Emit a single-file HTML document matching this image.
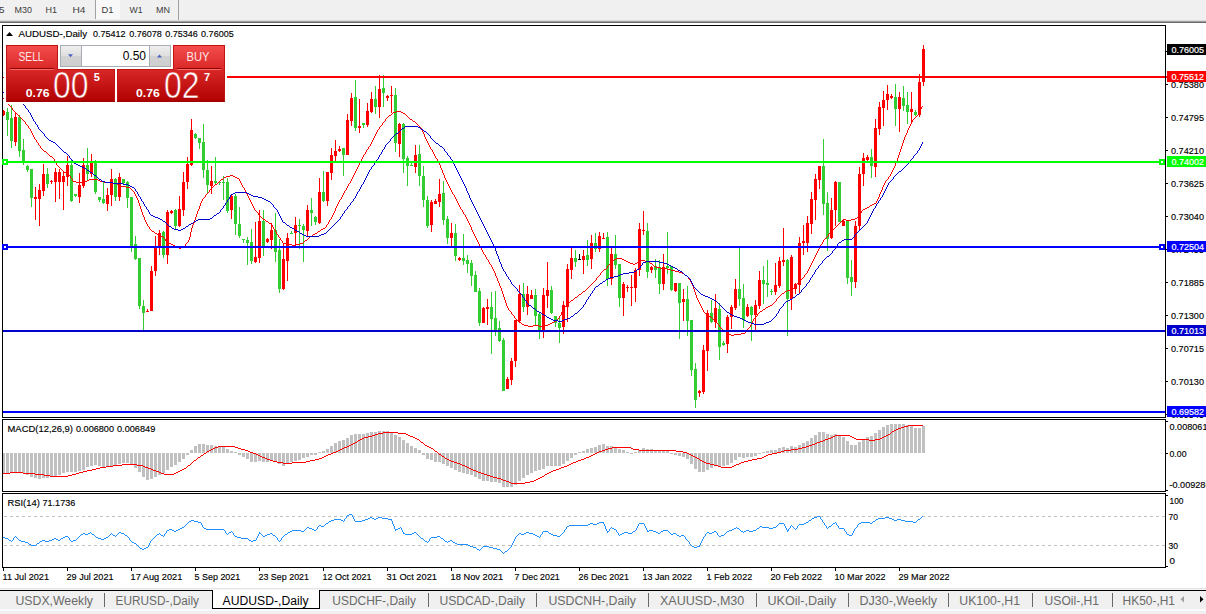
<!DOCTYPE html>
<html lang="en"><head><meta charset="utf-8"><title>AUDUSD-,Daily</title>
<style>
html,body{margin:0;padding:0;background:#fff;overflow:hidden}
body{width:1206px;height:614px;position:relative;font-family:"Liberation Sans", "DejaVu Sans", sans-serif}
svg{position:absolute;left:0;top:0;display:block}
text{font-family:"Liberation Sans", "DejaVu Sans", sans-serif}
.c{font-size:9.8px;fill:#000;stroke:#000;stroke-width:0.15px}
.w{font-size:9.8px;fill:#fff;stroke:#fff;stroke-width:0.2px}
.tab{font-size:12.5px;fill:#6a6a6a}
.tb{font-size:9.8px;fill:#3c3c3c}
</style></head><body>
<svg width="1206" height="614" viewBox="0 0 1206 614">
<defs>
<linearGradient id="gs" x1="0" y1="0" x2="0" y2="1"><stop offset="0" stop-color="#f54e4e"/><stop offset="1" stop-color="#d92626"/></linearGradient>
<linearGradient id="gp" x1="0" y1="0" x2="0" y2="1"><stop offset="0" stop-color="#d92828"/><stop offset="0.9" stop-color="#b40404"/><stop offset="1" stop-color="#a80000"/></linearGradient>
<linearGradient id="gp2" gradientUnits="userSpaceOnUse" x1="0" y1="69" x2="0" y2="102"><stop offset="0" stop-color="#d92828"/><stop offset="0.9" stop-color="#b40404"/><stop offset="1" stop-color="#a80000"/></linearGradient>
<linearGradient id="gb" x1="0" y1="0" x2="0" y2="1"><stop offset="0" stop-color="#efefef"/><stop offset="0.5" stop-color="#dedede"/><stop offset="0.5" stop-color="#d2d2d2"/><stop offset="1" stop-color="#cfcfcf"/></linearGradient>
</defs>
<rect width="1206" height="614" fill="#fff"/>

<g shape-rendering="crispEdges">
<rect x="0" y="0" width="1206" height="21" fill="#f0f0f0"/>
<rect x="0" y="20" width="1206" height="1" fill="#dadada"/>
<rect x="0" y="21" width="1206" height="1" fill="#a0a0a0"/>
<rect x="0" y="22" width="1206" height="1" fill="#696969"/>
<rect x="96" y="0" width="24" height="19" fill="#f8f8f8"/>
<rect x="95" y="0" width="1" height="19" fill="#a0a0a0"/>
<rect x="178" y="0" width="1" height="20" fill="#a0a0a0"/>
</g>
<text x="-1" y="13" class="tb">5</text>
<text x="14.5" y="13" class="tb" textLength="17.5" lengthAdjust="spacingAndGlyphs">M30</text>
<text x="45.5" y="13" class="tb" textLength="11.5" lengthAdjust="spacingAndGlyphs">H1</text>
<text x="72.5" y="13" class="tb" textLength="13" lengthAdjust="spacingAndGlyphs">H4</text>
<text x="101.5" y="13" class="tb" textLength="12" lengthAdjust="spacingAndGlyphs">D1</text>
<text x="129.5" y="13" class="tb" textLength="13" lengthAdjust="spacingAndGlyphs">W1</text>
<text x="156" y="13" class="tb" textLength="14" lengthAdjust="spacingAndGlyphs">MN</text>
<g shape-rendering="crispEdges" fill="none" stroke="#000" stroke-width="1">
<rect x="2.5" y="25.5" width="1163" height="392"/>
<rect x="2.5" y="419.5" width="1163" height="72"/>
<rect x="2.5" y="493.5" width="1163" height="74"/>
</g>
<g shape-rendering="crispEdges">
<rect x="3" y="110" width="1" height="6" fill="#ff0000"/>
<rect x="3" y="111" width="2" height="4" fill="#ff0000"/>
<rect x="7" y="108" width="1" height="28" fill="#32cd32"/>
<rect x="6" y="112" width="3" height="8" fill="#32cd32"/>
<rect x="11" y="105" width="1" height="43" fill="#32cd32"/>
<rect x="10" y="118" width="3" height="23" fill="#32cd32"/>
<rect x="15" y="112" width="1" height="34" fill="#ff0000"/>
<rect x="14" y="117" width="3" height="25" fill="#ff0000"/>
<rect x="19" y="115" width="1" height="42" fill="#32cd32"/>
<rect x="18" y="117" width="3" height="34" fill="#32cd32"/>
<rect x="23" y="139" width="1" height="26" fill="#32cd32"/>
<rect x="22" y="150" width="3" height="11" fill="#32cd32"/>
<rect x="27" y="165" width="1" height="7" fill="#32cd32"/>
<rect x="26" y="166" width="3" height="4" fill="#32cd32"/>
<rect x="31" y="169" width="1" height="38" fill="#32cd32"/>
<rect x="30" y="169" width="3" height="29" fill="#32cd32"/>
<rect x="35" y="187" width="1" height="33" fill="#ff0000"/>
<rect x="34" y="197" width="3" height="2" fill="#ff0000"/>
<rect x="39" y="184" width="1" height="42" fill="#ff0000"/>
<rect x="38" y="190" width="3" height="9" fill="#ff0000"/>
<rect x="43" y="164" width="1" height="32" fill="#ff0000"/>
<rect x="42" y="174" width="3" height="17" fill="#ff0000"/>
<rect x="47" y="168" width="1" height="20" fill="#32cd32"/>
<rect x="46" y="174" width="3" height="10" fill="#32cd32"/>
<rect x="51" y="180" width="1" height="4" fill="#ff0000"/>
<rect x="50" y="181" width="3" height="1" fill="#ff0000"/>
<rect x="55" y="168" width="1" height="34" fill="#ff0000"/>
<rect x="54" y="172" width="3" height="10" fill="#ff0000"/>
<rect x="59" y="169" width="1" height="30" fill="#ff0000"/>
<rect x="58" y="172" width="3" height="10" fill="#ff0000"/>
<rect x="63" y="172" width="1" height="38" fill="#ff0000"/>
<rect x="62" y="176" width="3" height="6" fill="#ff0000"/>
<rect x="67" y="156" width="1" height="30" fill="#ff0000"/>
<rect x="66" y="165" width="3" height="12" fill="#ff0000"/>
<rect x="71" y="160" width="1" height="42" fill="#32cd32"/>
<rect x="70" y="165" width="3" height="36" fill="#32cd32"/>
<rect x="75" y="194" width="1" height="3" fill="#32cd32"/>
<rect x="74" y="194" width="3" height="2" fill="#32cd32"/>
<rect x="79" y="173" width="1" height="30" fill="#ff0000"/>
<rect x="78" y="185" width="3" height="12" fill="#ff0000"/>
<rect x="83" y="158" width="1" height="30" fill="#ff0000"/>
<rect x="82" y="165" width="3" height="21" fill="#ff0000"/>
<rect x="87" y="148" width="1" height="33" fill="#32cd32"/>
<rect x="86" y="165" width="3" height="9" fill="#32cd32"/>
<rect x="91" y="154" width="1" height="23" fill="#ff0000"/>
<rect x="90" y="161" width="3" height="13" fill="#ff0000"/>
<rect x="95" y="160" width="1" height="34" fill="#32cd32"/>
<rect x="94" y="161" width="3" height="31" fill="#32cd32"/>
<rect x="99" y="197" width="1" height="5" fill="#32cd32"/>
<rect x="98" y="197" width="3" height="3" fill="#32cd32"/>
<rect x="103" y="182" width="1" height="22" fill="#32cd32"/>
<rect x="102" y="199" width="3" height="4" fill="#32cd32"/>
<rect x="107" y="188" width="1" height="23" fill="#ff0000"/>
<rect x="106" y="195" width="3" height="9" fill="#ff0000"/>
<rect x="111" y="169" width="1" height="37" fill="#ff0000"/>
<rect x="110" y="179" width="3" height="16" fill="#ff0000"/>
<rect x="115" y="178" width="1" height="23" fill="#32cd32"/>
<rect x="114" y="179" width="3" height="18" fill="#32cd32"/>
<rect x="119" y="173" width="1" height="28" fill="#ff0000"/>
<rect x="118" y="177" width="3" height="20" fill="#ff0000"/>
<rect x="123" y="179" width="1" height="5" fill="#32cd32"/>
<rect x="122" y="179" width="3" height="4" fill="#32cd32"/>
<rect x="127" y="181" width="1" height="27" fill="#32cd32"/>
<rect x="126" y="182" width="3" height="16" fill="#32cd32"/>
<rect x="131" y="197" width="1" height="55" fill="#32cd32"/>
<rect x="130" y="197" width="3" height="50" fill="#32cd32"/>
<rect x="135" y="236" width="1" height="24" fill="#32cd32"/>
<rect x="134" y="244" width="3" height="15" fill="#32cd32"/>
<rect x="139" y="258" width="1" height="51" fill="#32cd32"/>
<rect x="138" y="258" width="3" height="48" fill="#32cd32"/>
<rect x="143" y="300" width="1" height="30" fill="#32cd32"/>
<rect x="142" y="306" width="3" height="7" fill="#32cd32"/>
<rect x="147" y="309" width="1" height="3" fill="#ff0000"/>
<rect x="146" y="311" width="3" height="1" fill="#ff0000"/>
<rect x="151" y="266" width="1" height="45" fill="#ff0000"/>
<rect x="150" y="271" width="3" height="40" fill="#ff0000"/>
<rect x="155" y="236" width="1" height="40" fill="#ff0000"/>
<rect x="154" y="247" width="3" height="24" fill="#ff0000"/>
<rect x="159" y="230" width="1" height="25" fill="#ff0000"/>
<rect x="158" y="233" width="3" height="15" fill="#ff0000"/>
<rect x="163" y="231" width="1" height="27" fill="#32cd32"/>
<rect x="162" y="232" width="3" height="23" fill="#32cd32"/>
<rect x="167" y="210" width="1" height="54" fill="#ff0000"/>
<rect x="166" y="212" width="3" height="43" fill="#ff0000"/>
<rect x="171" y="210" width="1" height="4" fill="#ff0000"/>
<rect x="170" y="211" width="3" height="2" fill="#ff0000"/>
<rect x="175" y="209" width="1" height="20" fill="#32cd32"/>
<rect x="174" y="210" width="3" height="16" fill="#32cd32"/>
<rect x="179" y="196" width="1" height="31" fill="#ff0000"/>
<rect x="178" y="209" width="3" height="17" fill="#ff0000"/>
<rect x="183" y="172" width="1" height="44" fill="#ff0000"/>
<rect x="182" y="182" width="3" height="28" fill="#ff0000"/>
<rect x="187" y="157" width="1" height="32" fill="#ff0000"/>
<rect x="186" y="164" width="3" height="18" fill="#ff0000"/>
<rect x="191" y="119" width="1" height="47" fill="#ff0000"/>
<rect x="190" y="130" width="3" height="35" fill="#ff0000"/>
<rect x="195" y="133" width="1" height="6" fill="#32cd32"/>
<rect x="194" y="134" width="3" height="4" fill="#32cd32"/>
<rect x="199" y="138" width="1" height="11" fill="#32cd32"/>
<rect x="198" y="138" width="3" height="5" fill="#32cd32"/>
<rect x="203" y="124" width="1" height="54" fill="#32cd32"/>
<rect x="202" y="142" width="3" height="28" fill="#32cd32"/>
<rect x="207" y="160" width="1" height="34" fill="#32cd32"/>
<rect x="206" y="170" width="3" height="15" fill="#32cd32"/>
<rect x="211" y="166" width="1" height="28" fill="#ff0000"/>
<rect x="210" y="181" width="3" height="5" fill="#ff0000"/>
<rect x="215" y="157" width="1" height="28" fill="#32cd32"/>
<rect x="214" y="181" width="3" height="2" fill="#32cd32"/>
<rect x="219" y="181" width="1" height="4" fill="#32cd32"/>
<rect x="218" y="182" width="3" height="1" fill="#32cd32"/>
<rect x="223" y="176" width="1" height="24" fill="#32cd32"/>
<rect x="222" y="182" width="3" height="1" fill="#32cd32"/>
<rect x="227" y="178" width="1" height="35" fill="#32cd32"/>
<rect x="226" y="182" width="3" height="29" fill="#32cd32"/>
<rect x="231" y="194" width="1" height="25" fill="#ff0000"/>
<rect x="230" y="196" width="3" height="14" fill="#ff0000"/>
<rect x="235" y="194" width="1" height="41" fill="#32cd32"/>
<rect x="234" y="196" width="3" height="28" fill="#32cd32"/>
<rect x="239" y="207" width="1" height="31" fill="#32cd32"/>
<rect x="238" y="224" width="3" height="12" fill="#32cd32"/>
<rect x="243" y="239" width="1" height="4" fill="#32cd32"/>
<rect x="242" y="239" width="3" height="1" fill="#32cd32"/>
<rect x="247" y="237" width="1" height="28" fill="#32cd32"/>
<rect x="246" y="240" width="3" height="3" fill="#32cd32"/>
<rect x="251" y="229" width="1" height="35" fill="#32cd32"/>
<rect x="250" y="242" width="3" height="19" fill="#32cd32"/>
<rect x="255" y="222" width="1" height="41" fill="#ff0000"/>
<rect x="254" y="257" width="3" height="5" fill="#ff0000"/>
<rect x="259" y="210" width="1" height="53" fill="#ff0000"/>
<rect x="258" y="221" width="3" height="37" fill="#ff0000"/>
<rect x="263" y="210" width="1" height="46" fill="#32cd32"/>
<rect x="262" y="221" width="3" height="25" fill="#32cd32"/>
<rect x="267" y="238" width="1" height="5" fill="#ff0000"/>
<rect x="266" y="239" width="3" height="3" fill="#ff0000"/>
<rect x="271" y="223" width="1" height="26" fill="#ff0000"/>
<rect x="270" y="230" width="3" height="10" fill="#ff0000"/>
<rect x="275" y="213" width="1" height="49" fill="#32cd32"/>
<rect x="274" y="230" width="3" height="22" fill="#32cd32"/>
<rect x="279" y="239" width="1" height="54" fill="#32cd32"/>
<rect x="278" y="250" width="3" height="39" fill="#32cd32"/>
<rect x="283" y="243" width="1" height="47" fill="#ff0000"/>
<rect x="282" y="259" width="3" height="30" fill="#ff0000"/>
<rect x="287" y="233" width="1" height="48" fill="#ff0000"/>
<rect x="286" y="238" width="3" height="23" fill="#ff0000"/>
<rect x="291" y="231" width="1" height="3" fill="#32cd32"/>
<rect x="290" y="233" width="3" height="1" fill="#32cd32"/>
<rect x="295" y="217" width="1" height="30" fill="#ff0000"/>
<rect x="294" y="225" width="3" height="8" fill="#ff0000"/>
<rect x="299" y="219" width="1" height="30" fill="#32cd32"/>
<rect x="298" y="225" width="3" height="1" fill="#32cd32"/>
<rect x="303" y="224" width="1" height="38" fill="#32cd32"/>
<rect x="302" y="226" width="3" height="4" fill="#32cd32"/>
<rect x="307" y="205" width="1" height="31" fill="#ff0000"/>
<rect x="306" y="210" width="3" height="21" fill="#ff0000"/>
<rect x="311" y="198" width="1" height="28" fill="#32cd32"/>
<rect x="310" y="210" width="3" height="3" fill="#32cd32"/>
<rect x="315" y="216" width="1" height="9" fill="#32cd32"/>
<rect x="314" y="217" width="3" height="5" fill="#32cd32"/>
<rect x="319" y="178" width="1" height="46" fill="#ff0000"/>
<rect x="318" y="192" width="3" height="31" fill="#ff0000"/>
<rect x="323" y="171" width="1" height="31" fill="#32cd32"/>
<rect x="322" y="192" width="3" height="9" fill="#32cd32"/>
<rect x="327" y="172" width="1" height="34" fill="#ff0000"/>
<rect x="326" y="172" width="3" height="29" fill="#ff0000"/>
<rect x="331" y="148" width="1" height="32" fill="#ff0000"/>
<rect x="330" y="155" width="3" height="18" fill="#ff0000"/>
<rect x="335" y="140" width="1" height="22" fill="#ff0000"/>
<rect x="334" y="151" width="3" height="5" fill="#ff0000"/>
<rect x="339" y="146" width="1" height="6" fill="#ff0000"/>
<rect x="338" y="149" width="3" height="2" fill="#ff0000"/>
<rect x="343" y="148" width="1" height="28" fill="#32cd32"/>
<rect x="342" y="148" width="3" height="7" fill="#32cd32"/>
<rect x="347" y="114" width="1" height="41" fill="#ff0000"/>
<rect x="346" y="120" width="3" height="35" fill="#ff0000"/>
<rect x="351" y="93" width="1" height="33" fill="#ff0000"/>
<rect x="350" y="98" width="3" height="23" fill="#ff0000"/>
<rect x="355" y="80" width="1" height="51" fill="#32cd32"/>
<rect x="354" y="97" width="3" height="31" fill="#32cd32"/>
<rect x="359" y="99" width="1" height="34" fill="#ff0000"/>
<rect x="358" y="126" width="3" height="2" fill="#ff0000"/>
<rect x="363" y="123" width="1" height="5" fill="#32cd32"/>
<rect x="362" y="123" width="3" height="2" fill="#32cd32"/>
<rect x="367" y="103" width="1" height="24" fill="#ff0000"/>
<rect x="366" y="111" width="3" height="14" fill="#ff0000"/>
<rect x="371" y="92" width="1" height="21" fill="#ff0000"/>
<rect x="370" y="99" width="3" height="13" fill="#ff0000"/>
<rect x="375" y="86" width="1" height="28" fill="#32cd32"/>
<rect x="374" y="99" width="3" height="8" fill="#32cd32"/>
<rect x="379" y="75" width="1" height="43" fill="#ff0000"/>
<rect x="378" y="89" width="3" height="18" fill="#ff0000"/>
<rect x="383" y="75" width="1" height="32" fill="#32cd32"/>
<rect x="382" y="88" width="3" height="5" fill="#32cd32"/>
<rect x="387" y="95" width="1" height="6" fill="#ff0000"/>
<rect x="386" y="96" width="3" height="2" fill="#ff0000"/>
<rect x="391" y="86" width="1" height="27" fill="#ff0000"/>
<rect x="390" y="95" width="3" height="1" fill="#ff0000"/>
<rect x="395" y="88" width="1" height="64" fill="#32cd32"/>
<rect x="394" y="95" width="3" height="48" fill="#32cd32"/>
<rect x="399" y="123" width="1" height="34" fill="#ff0000"/>
<rect x="398" y="124" width="3" height="20" fill="#ff0000"/>
<rect x="403" y="123" width="1" height="50" fill="#32cd32"/>
<rect x="402" y="124" width="3" height="35" fill="#32cd32"/>
<rect x="407" y="156" width="1" height="30" fill="#32cd32"/>
<rect x="406" y="158" width="3" height="8" fill="#32cd32"/>
<rect x="411" y="163" width="1" height="3" fill="#32cd32"/>
<rect x="410" y="165" width="3" height="1" fill="#32cd32"/>
<rect x="415" y="145" width="1" height="28" fill="#ff0000"/>
<rect x="414" y="155" width="3" height="12" fill="#ff0000"/>
<rect x="419" y="145" width="1" height="41" fill="#32cd32"/>
<rect x="418" y="154" width="3" height="22" fill="#32cd32"/>
<rect x="423" y="166" width="1" height="41" fill="#32cd32"/>
<rect x="422" y="176" width="3" height="24" fill="#32cd32"/>
<rect x="427" y="196" width="1" height="32" fill="#32cd32"/>
<rect x="426" y="200" width="3" height="26" fill="#32cd32"/>
<rect x="431" y="200" width="1" height="32" fill="#ff0000"/>
<rect x="430" y="202" width="3" height="23" fill="#ff0000"/>
<rect x="435" y="199" width="1" height="5" fill="#ff0000"/>
<rect x="434" y="201" width="3" height="3" fill="#ff0000"/>
<rect x="439" y="179" width="1" height="28" fill="#ff0000"/>
<rect x="438" y="194" width="3" height="8" fill="#ff0000"/>
<rect x="443" y="181" width="1" height="44" fill="#32cd32"/>
<rect x="442" y="193" width="3" height="27" fill="#32cd32"/>
<rect x="447" y="216" width="1" height="28" fill="#32cd32"/>
<rect x="446" y="219" width="3" height="19" fill="#32cd32"/>
<rect x="451" y="223" width="1" height="25" fill="#ff0000"/>
<rect x="450" y="233" width="3" height="5" fill="#ff0000"/>
<rect x="455" y="224" width="1" height="37" fill="#32cd32"/>
<rect x="454" y="233" width="3" height="23" fill="#32cd32"/>
<rect x="459" y="257" width="1" height="4" fill="#ff0000"/>
<rect x="458" y="258" width="3" height="2" fill="#ff0000"/>
<rect x="463" y="234" width="1" height="31" fill="#32cd32"/>
<rect x="462" y="258" width="3" height="3" fill="#32cd32"/>
<rect x="467" y="255" width="1" height="18" fill="#32cd32"/>
<rect x="466" y="260" width="3" height="4" fill="#32cd32"/>
<rect x="471" y="260" width="1" height="26" fill="#32cd32"/>
<rect x="470" y="263" width="3" height="13" fill="#32cd32"/>
<rect x="475" y="271" width="1" height="21" fill="#32cd32"/>
<rect x="474" y="275" width="3" height="17" fill="#32cd32"/>
<rect x="479" y="288" width="1" height="38" fill="#32cd32"/>
<rect x="478" y="291" width="3" height="32" fill="#32cd32"/>
<rect x="483" y="307" width="1" height="16" fill="#ff0000"/>
<rect x="482" y="308" width="3" height="15" fill="#ff0000"/>
<rect x="487" y="299" width="1" height="26" fill="#ff0000"/>
<rect x="486" y="307" width="3" height="2" fill="#ff0000"/>
<rect x="491" y="292" width="1" height="62" fill="#32cd32"/>
<rect x="490" y="307" width="3" height="12" fill="#32cd32"/>
<rect x="495" y="291" width="1" height="45" fill="#32cd32"/>
<rect x="494" y="318" width="3" height="12" fill="#32cd32"/>
<rect x="499" y="321" width="1" height="21" fill="#32cd32"/>
<rect x="498" y="328" width="3" height="13" fill="#32cd32"/>
<rect x="503" y="338" width="1" height="53" fill="#32cd32"/>
<rect x="502" y="340" width="3" height="51" fill="#32cd32"/>
<rect x="507" y="377" width="1" height="12" fill="#ff0000"/>
<rect x="506" y="379" width="3" height="10" fill="#ff0000"/>
<rect x="511" y="358" width="1" height="27" fill="#ff0000"/>
<rect x="510" y="361" width="3" height="19" fill="#ff0000"/>
<rect x="515" y="320" width="1" height="47" fill="#ff0000"/>
<rect x="514" y="320" width="3" height="41" fill="#ff0000"/>
<rect x="519" y="285" width="1" height="38" fill="#ff0000"/>
<rect x="518" y="294" width="3" height="27" fill="#ff0000"/>
<rect x="523" y="283" width="1" height="29" fill="#32cd32"/>
<rect x="522" y="294" width="3" height="13" fill="#32cd32"/>
<rect x="527" y="286" width="1" height="29" fill="#ff0000"/>
<rect x="526" y="294" width="3" height="13" fill="#ff0000"/>
<rect x="531" y="290" width="1" height="9" fill="#ff0000"/>
<rect x="530" y="295" width="3" height="4" fill="#ff0000"/>
<rect x="535" y="289" width="1" height="37" fill="#32cd32"/>
<rect x="534" y="295" width="3" height="21" fill="#32cd32"/>
<rect x="539" y="313" width="1" height="26" fill="#32cd32"/>
<rect x="538" y="314" width="3" height="17" fill="#32cd32"/>
<rect x="543" y="288" width="1" height="50" fill="#ff0000"/>
<rect x="542" y="295" width="3" height="36" fill="#ff0000"/>
<rect x="547" y="262" width="1" height="46" fill="#ff0000"/>
<rect x="546" y="290" width="3" height="6" fill="#ff0000"/>
<rect x="551" y="286" width="1" height="28" fill="#32cd32"/>
<rect x="550" y="290" width="3" height="23" fill="#32cd32"/>
<rect x="555" y="316" width="1" height="11" fill="#32cd32"/>
<rect x="554" y="316" width="3" height="7" fill="#32cd32"/>
<rect x="559" y="317" width="1" height="26" fill="#32cd32"/>
<rect x="558" y="323" width="3" height="5" fill="#32cd32"/>
<rect x="563" y="301" width="1" height="33" fill="#ff0000"/>
<rect x="562" y="305" width="3" height="22" fill="#ff0000"/>
<rect x="567" y="264" width="1" height="58" fill="#ff0000"/>
<rect x="566" y="269" width="3" height="38" fill="#ff0000"/>
<rect x="571" y="247" width="1" height="32" fill="#ff0000"/>
<rect x="570" y="258" width="3" height="12" fill="#ff0000"/>
<rect x="575" y="250" width="1" height="17" fill="#32cd32"/>
<rect x="574" y="258" width="3" height="4" fill="#32cd32"/>
<rect x="579" y="254" width="1" height="6" fill="#000"/>
<rect x="578" y="259" width="3" height="1" fill="#000"/>
<rect x="583" y="250" width="1" height="24" fill="#ff0000"/>
<rect x="582" y="256" width="3" height="4" fill="#ff0000"/>
<rect x="587" y="240" width="1" height="26" fill="#32cd32"/>
<rect x="586" y="255" width="3" height="5" fill="#32cd32"/>
<rect x="591" y="235" width="1" height="34" fill="#ff0000"/>
<rect x="590" y="243" width="3" height="16" fill="#ff0000"/>
<rect x="595" y="233" width="1" height="19" fill="#32cd32"/>
<rect x="594" y="243" width="3" height="6" fill="#32cd32"/>
<rect x="599" y="232" width="1" height="20" fill="#ff0000"/>
<rect x="598" y="236" width="3" height="13" fill="#ff0000"/>
<rect x="603" y="233" width="1" height="6" fill="#ff0000"/>
<rect x="602" y="238" width="3" height="1" fill="#ff0000"/>
<rect x="607" y="232" width="1" height="54" fill="#32cd32"/>
<rect x="606" y="237" width="3" height="42" fill="#32cd32"/>
<rect x="611" y="248" width="1" height="37" fill="#ff0000"/>
<rect x="610" y="254" width="3" height="25" fill="#ff0000"/>
<rect x="615" y="235" width="1" height="34" fill="#32cd32"/>
<rect x="614" y="254" width="3" height="11" fill="#32cd32"/>
<rect x="619" y="264" width="1" height="43" fill="#32cd32"/>
<rect x="618" y="264" width="3" height="34" fill="#32cd32"/>
<rect x="623" y="282" width="1" height="34" fill="#ff0000"/>
<rect x="622" y="284" width="3" height="14" fill="#ff0000"/>
<rect x="627" y="285" width="1" height="7" fill="#ff0000"/>
<rect x="626" y="287" width="3" height="1" fill="#ff0000"/>
<rect x="631" y="275" width="1" height="31" fill="#ff0000"/>
<rect x="630" y="287" width="3" height="1" fill="#ff0000"/>
<rect x="635" y="268" width="1" height="34" fill="#ff0000"/>
<rect x="634" y="270" width="3" height="18" fill="#ff0000"/>
<rect x="639" y="223" width="1" height="53" fill="#ff0000"/>
<rect x="638" y="229" width="3" height="41" fill="#ff0000"/>
<rect x="643" y="211" width="1" height="24" fill="#ff0000"/>
<rect x="642" y="230" width="3" height="1" fill="#ff0000"/>
<rect x="647" y="223" width="1" height="55" fill="#32cd32"/>
<rect x="646" y="231" width="3" height="41" fill="#32cd32"/>
<rect x="651" y="266" width="1" height="7" fill="#ff0000"/>
<rect x="650" y="267" width="3" height="3" fill="#ff0000"/>
<rect x="655" y="259" width="1" height="19" fill="#32cd32"/>
<rect x="654" y="266" width="3" height="4" fill="#32cd32"/>
<rect x="659" y="260" width="1" height="34" fill="#32cd32"/>
<rect x="658" y="267" width="3" height="17" fill="#32cd32"/>
<rect x="663" y="254" width="1" height="36" fill="#ff0000"/>
<rect x="662" y="267" width="3" height="17" fill="#ff0000"/>
<rect x="667" y="232" width="1" height="42" fill="#32cd32"/>
<rect x="666" y="266" width="3" height="2" fill="#32cd32"/>
<rect x="671" y="266" width="1" height="25" fill="#32cd32"/>
<rect x="670" y="266" width="3" height="24" fill="#32cd32"/>
<rect x="675" y="283" width="1" height="9" fill="#ff0000"/>
<rect x="674" y="283" width="3" height="8" fill="#ff0000"/>
<rect x="679" y="283" width="1" height="56" fill="#32cd32"/>
<rect x="678" y="283" width="3" height="20" fill="#32cd32"/>
<rect x="683" y="289" width="1" height="32" fill="#ff0000"/>
<rect x="682" y="299" width="3" height="3" fill="#ff0000"/>
<rect x="687" y="286" width="1" height="50" fill="#32cd32"/>
<rect x="686" y="299" width="3" height="22" fill="#32cd32"/>
<rect x="691" y="320" width="1" height="56" fill="#32cd32"/>
<rect x="690" y="320" width="3" height="50" fill="#32cd32"/>
<rect x="695" y="363" width="1" height="45" fill="#32cd32"/>
<rect x="694" y="369" width="3" height="31" fill="#32cd32"/>
<rect x="699" y="390" width="1" height="7" fill="#ff0000"/>
<rect x="698" y="391" width="3" height="2" fill="#ff0000"/>
<rect x="703" y="345" width="1" height="49" fill="#ff0000"/>
<rect x="702" y="350" width="3" height="42" fill="#ff0000"/>
<rect x="707" y="310" width="1" height="61" fill="#ff0000"/>
<rect x="706" y="313" width="3" height="38" fill="#ff0000"/>
<rect x="711" y="300" width="1" height="23" fill="#32cd32"/>
<rect x="710" y="313" width="3" height="9" fill="#32cd32"/>
<rect x="715" y="294" width="1" height="34" fill="#ff0000"/>
<rect x="714" y="308" width="3" height="14" fill="#ff0000"/>
<rect x="719" y="303" width="1" height="57" fill="#32cd32"/>
<rect x="718" y="309" width="3" height="38" fill="#32cd32"/>
<rect x="723" y="341" width="1" height="5" fill="#32cd32"/>
<rect x="722" y="343" width="3" height="2" fill="#32cd32"/>
<rect x="727" y="315" width="1" height="38" fill="#ff0000"/>
<rect x="726" y="317" width="3" height="27" fill="#ff0000"/>
<rect x="731" y="305" width="1" height="24" fill="#ff0000"/>
<rect x="730" y="307" width="3" height="10" fill="#ff0000"/>
<rect x="735" y="279" width="1" height="31" fill="#ff0000"/>
<rect x="734" y="289" width="3" height="19" fill="#ff0000"/>
<rect x="739" y="248" width="1" height="58" fill="#32cd32"/>
<rect x="738" y="289" width="3" height="10" fill="#32cd32"/>
<rect x="743" y="284" width="1" height="44" fill="#32cd32"/>
<rect x="742" y="298" width="3" height="22" fill="#32cd32"/>
<rect x="747" y="304" width="1" height="13" fill="#ff0000"/>
<rect x="746" y="307" width="3" height="9" fill="#ff0000"/>
<rect x="751" y="306" width="1" height="35" fill="#32cd32"/>
<rect x="750" y="307" width="3" height="8" fill="#32cd32"/>
<rect x="755" y="300" width="1" height="32" fill="#ff0000"/>
<rect x="754" y="305" width="3" height="10" fill="#ff0000"/>
<rect x="759" y="271" width="1" height="38" fill="#ff0000"/>
<rect x="758" y="280" width="3" height="26" fill="#ff0000"/>
<rect x="763" y="266" width="1" height="38" fill="#32cd32"/>
<rect x="762" y="280" width="3" height="4" fill="#32cd32"/>
<rect x="767" y="260" width="1" height="37" fill="#32cd32"/>
<rect x="766" y="283" width="3" height="2" fill="#32cd32"/>
<rect x="771" y="289" width="1" height="6" fill="#32cd32"/>
<rect x="770" y="291" width="3" height="1" fill="#32cd32"/>
<rect x="775" y="263" width="1" height="32" fill="#ff0000"/>
<rect x="774" y="285" width="3" height="7" fill="#ff0000"/>
<rect x="779" y="257" width="1" height="31" fill="#ff0000"/>
<rect x="778" y="261" width="3" height="25" fill="#ff0000"/>
<rect x="783" y="228" width="1" height="38" fill="#ff0000"/>
<rect x="782" y="260" width="3" height="2" fill="#ff0000"/>
<rect x="787" y="259" width="1" height="77" fill="#32cd32"/>
<rect x="786" y="260" width="3" height="39" fill="#32cd32"/>
<rect x="791" y="255" width="1" height="55" fill="#ff0000"/>
<rect x="790" y="257" width="3" height="42" fill="#ff0000"/>
<rect x="795" y="283" width="1" height="11" fill="#ff0000"/>
<rect x="794" y="284" width="3" height="5" fill="#ff0000"/>
<rect x="799" y="237" width="1" height="57" fill="#ff0000"/>
<rect x="798" y="243" width="3" height="42" fill="#ff0000"/>
<rect x="803" y="225" width="1" height="30" fill="#ff0000"/>
<rect x="802" y="241" width="3" height="2" fill="#ff0000"/>
<rect x="807" y="216" width="1" height="36" fill="#ff0000"/>
<rect x="806" y="223" width="3" height="20" fill="#ff0000"/>
<rect x="811" y="192" width="1" height="42" fill="#ff0000"/>
<rect x="810" y="199" width="3" height="25" fill="#ff0000"/>
<rect x="815" y="174" width="1" height="46" fill="#ff0000"/>
<rect x="814" y="179" width="3" height="21" fill="#ff0000"/>
<rect x="819" y="166" width="1" height="23" fill="#ff0000"/>
<rect x="818" y="166" width="3" height="14" fill="#ff0000"/>
<rect x="823" y="139" width="1" height="76" fill="#32cd32"/>
<rect x="822" y="166" width="3" height="38" fill="#32cd32"/>
<rect x="827" y="192" width="1" height="59" fill="#32cd32"/>
<rect x="826" y="203" width="3" height="36" fill="#32cd32"/>
<rect x="831" y="198" width="1" height="41" fill="#ff0000"/>
<rect x="830" y="210" width="3" height="28" fill="#ff0000"/>
<rect x="835" y="181" width="1" height="45" fill="#ff0000"/>
<rect x="834" y="182" width="3" height="28" fill="#ff0000"/>
<rect x="839" y="182" width="1" height="40" fill="#32cd32"/>
<rect x="838" y="182" width="3" height="40" fill="#32cd32"/>
<rect x="843" y="219" width="1" height="7" fill="#ff0000"/>
<rect x="842" y="221" width="3" height="5" fill="#ff0000"/>
<rect x="847" y="221" width="1" height="63" fill="#32cd32"/>
<rect x="846" y="221" width="3" height="57" fill="#32cd32"/>
<rect x="851" y="260" width="1" height="36" fill="#32cd32"/>
<rect x="850" y="277" width="3" height="5" fill="#32cd32"/>
<rect x="855" y="221" width="1" height="67" fill="#ff0000"/>
<rect x="854" y="226" width="3" height="56" fill="#ff0000"/>
<rect x="859" y="167" width="1" height="63" fill="#ff0000"/>
<rect x="858" y="174" width="3" height="52" fill="#ff0000"/>
<rect x="863" y="153" width="1" height="33" fill="#ff0000"/>
<rect x="862" y="158" width="3" height="16" fill="#ff0000"/>
<rect x="867" y="155" width="1" height="6" fill="#ff0000"/>
<rect x="866" y="157" width="3" height="3" fill="#ff0000"/>
<rect x="871" y="149" width="1" height="29" fill="#32cd32"/>
<rect x="870" y="157" width="3" height="9" fill="#32cd32"/>
<rect x="875" y="119" width="1" height="58" fill="#ff0000"/>
<rect x="874" y="128" width="3" height="39" fill="#ff0000"/>
<rect x="879" y="102" width="1" height="33" fill="#ff0000"/>
<rect x="878" y="107" width="3" height="22" fill="#ff0000"/>
<rect x="883" y="91" width="1" height="35" fill="#ff0000"/>
<rect x="882" y="100" width="3" height="8" fill="#ff0000"/>
<rect x="887" y="85" width="1" height="25" fill="#ff0000"/>
<rect x="886" y="94" width="3" height="6" fill="#ff0000"/>
<rect x="891" y="94" width="1" height="5" fill="#ff0000"/>
<rect x="890" y="96" width="3" height="2" fill="#ff0000"/>
<rect x="895" y="84" width="1" height="42" fill="#32cd32"/>
<rect x="894" y="97" width="3" height="12" fill="#32cd32"/>
<rect x="899" y="92" width="1" height="40" fill="#ff0000"/>
<rect x="898" y="97" width="3" height="12" fill="#ff0000"/>
<rect x="903" y="86" width="1" height="25" fill="#32cd32"/>
<rect x="902" y="98" width="3" height="8" fill="#32cd32"/>
<rect x="907" y="92" width="1" height="32" fill="#32cd32"/>
<rect x="906" y="105" width="3" height="7" fill="#32cd32"/>
<rect x="911" y="92" width="1" height="31" fill="#ff0000"/>
<rect x="910" y="109" width="3" height="3" fill="#ff0000"/>
<rect x="915" y="110" width="1" height="6" fill="#32cd32"/>
<rect x="914" y="112" width="3" height="3" fill="#32cd32"/>
<rect x="919" y="74" width="1" height="43" fill="#ff0000"/>
<rect x="918" y="82" width="3" height="33" fill="#ff0000"/>
<rect x="923" y="45" width="1" height="41" fill="#ff0000"/>
<rect x="922" y="49" width="3" height="33" fill="#ff0000"/>
</g>
<path d="M433.5 152v2M504.5 297v3M899.5 152v3M194.5 220v3M507.5 306v2M145.5 220v2M479.5 244v2M508.5 308v2M883.5 185v2M511.5 312v2M33.5 135v2M694.5 289v3M34.5 137v2M903.5 140v3M880.5 192v2M701.5 306v2M468.5 221v2M439.5 163v2M813.5 259v2M244.5 188v2M25.5 122v2M489.5 262v2M492.5 267v2M362.5 157v2M919.5 111v2M273.5 227v2M902.5 143v3M499.5 283v3M55.5 161v2M502.5 291v3M140.5 206v3M753.5 319v2M910.5 124v2M503.5 294v3M326.5 225v2M32.5 133v2M893.5 168v2M918.5 113v2M699.5 302v2M463.5 212v2M466.5 217v2M700.5 304v2M197.5 211v3M562.5 309v3M473.5 232v2M385.5 119v2M909.5 126v2M822.5 242v2M354.5 173v2M253.5 206v2M147.5 224v2M275.5 230v2M254.5 208v2M818.5 249v2M455.5 197v2M906.5 133v2M861.5 211v2M276.5 232v2M892.5 170v2M56.5 163v2M188.5 240v2M196.5 214v3M888.5 177v2M440.5 165v3M561.5 312v3M817.5 251v2M200.5 203v3M332.5 215v2M371.5 142v2M135.5 194v2M472.5 230v2M475.5 236v2M142.5 212v3M328.5 222v2M252.5 204v2M149.5 227v2M896.5 161v2M920.5 109v2M879.5 194v3M199.5 206v3M70.5 176v2M331.5 217v2M812.5 261v2M442.5 170v3M514.5 316v2M446.5 180v2M248.5 196v2M449.5 186v2M379.5 127v2M424.5 134v3M804.5 275v2M493.5 269v2M190.5 232v5M375.5 134v2M757.5 314v2M137.5 198v2M358.5 165v2M141.5 209v3M481.5 248v2M258.5 213v2M696.5 295v3M36.5 140v2M374.5 136v2M703.5 310v2M357.5 167v2M209.5 190v2M246.5 192v2M444.5 175v3M247.5 194v2M353.5 175v2M165.5 239v2M366.5 150v2M336.5 206v2M905.5 135v2M28.5 126v2M491.5 265v2M494.5 271v2M498.5 281v2M483.5 252v2M352.5 177v2M904.5 137v3M695.5 292v3M348.5 184v2M38.5 143v2M702.5 308v2M465.5 215v2M344.5 191v2M245.5 190v2M600.5 273v2M895.5 163v3M457.5 201v2M278.5 235v2M432.5 150v2M607.5 266v2M343.5 193v2M485.5 255v2M339.5 200v2M808.5 269v2M610.5 262v2M40.5 146v2M467.5 219v2M878.5 197v2M474.5 234v2M506.5 303v3M338.5 202v2M819.5 247v2M807.5 271v2M459.5 205v2M456.5 199v2M280.5 238v2M858.5 215v2M441.5 168v2M885.5 181v2M448.5 184v2M272.5 225v2M426.5 139v2M136.5 196v2M476.5 238v2M505.5 300v3M688.5 277v2M691.5 282v2M698.5 300v2M282.5 241v2M912.5 120v2M450.5 188v2M198.5 209v2M359.5 163v2M891.5 172v2M500.5 286v2M138.5 200v3M719.5 325v2M435.5 156v2M911.5 122v2M693.5 286v3M690.5 280v2M482.5 250v2M820.5 245v2M335.5 208v3M816.5 253v2M890.5 174v2M370.5 144v2M898.5 155v3M250.5 200v2M193.5 223v2M559.5 316v2M882.5 187v3M495.5 273v3M434.5 154v2M815.5 255v2M752.5 321v2M239.5 179v2M897.5 158v3M192.5 225v3M365.5 152v2M881.5 190v2M361.5 159v2M814.5 257v2M901.5 146v3M469.5 223v2M751.5 323v2M139.5 203v3M810.5 265v2M747.5 329v2M191.5 228v4M30.5 129v2M458.5 203v2M360.5 161v2M241.5 183v2M356.5 169v2M443.5 173v2M750.5 325v2M908.5 128v2M425.5 137v2M428.5 143v2M828.5 234v2M355.5 171v2M144.5 217v3M478.5 242v2M351.5 179v2M202.5 199v2M334.5 211v2M460.5 207v2M697.5 298v2M347.5 186v2M189.5 237v3M776.5 299v2M185.5 244v2M205.5 195v2M201.5 201v2M452.5 192v2M333.5 213v2M54.5 159v2M329.5 220v2M921.5 107v2M692.5 284v2M794.5 286v2M249.5 198v2M451.5 190v2M596.5 278v2M454.5 195v2M376.5 132v2M497.5 278v3M501.5 288v3M195.5 217v3M907.5 130v3M421.5 128v2M486.5 257v2M134.5 192v2M471.5 227v3M251.5 202v2M363.5 155v2M438.5 161v2M811.5 263v2M240.5 181v2M445.5 178v2M488.5 260v2M894.5 166v2M430.5 147v2M427.5 141v2M877.5 199v2M72.5 179v2M470.5 225v2M146.5 222v2M480.5 246v2M823.5 240v2M143.5 215v2M477.5 240v2M31.5 131v2M377.5 130v2M462.5 210v2M876.5 201v2M373.5 138v2M900.5 149v3M437.5 159v2M242.5 185v2M809.5 267v2M12.5 108v2M429.5 145v2M372.5 140v2M368.5 147v2M350.5 181v2M496.5 276v2M346.5 188v2M342.5 195v2M382.5 123v2M423.5 132v2M341.5 197v2M337.5 204v2M447.5 182v2M884.5 183v2M422.5 130v2M606 268.5h1M660 268.5h7M159 235.5h2M312 235.5h1M130 188.5h1M211 188.5h1M524 325.5h4M533 325.5h6M544 325.5h4M581 293.5h1M782 293.5h2M18 115.5h1M389 115.5h2M406 115.5h1M917 115.5h1M89 179.5h9M221 179.5h2M887 179.5h1M19 116.5h1M388 116.5h1M407 116.5h1M916 116.5h1M464 214.5h1M859 214.5h1M37 142.5h1M729 334.5h2M734 334.5h7M515 318.5h1M558 318.5h1M712 318.5h1M754 318.5h1M121 186.5h5M213 186.5h1M112 183.5h5M217 183.5h1M349 183.5h1M528 326.5h5M539 326.5h5M226 176.5h4M233 176.5h2M889 176.5h1M727 333.5h2M741 333.5h4M510 311.5h1M760 311.5h2M171 244.5h2M286 244.5h6M296 244.5h4M821 244.5h1M152 231.5h2M318 231.5h2M831 231.5h1M157 234.5h2M277 234.5h1M313 234.5h2M590 285.5h1M795 285.5h1M656 267.5h4M50 156.5h2M522 324.5h2M548 324.5h2M718 324.5h1M587 288.5h1M793 288.5h1M21 118.5h1M386 118.5h1M409 118.5h1M914 118.5h1M265 220.5h1M842 220.5h1M846 220.5h5M509 310.5h1M762 310.5h1M224 177.5h2M235 177.5h2M586 289.5h1M791 289.5h2M628 262.5h2M637 262.5h2M649 262.5h1M720 327.5h1M749 327.5h1M682 273.5h2M806 273.5h1M15 112.5h1M393 112.5h3M401 112.5h2M594 281.5h1M799 281.5h1M630 263.5h3M635 263.5h2M650 263.5h2M126 187.5h4M212 187.5h1M243 187.5h1M490 264.5h1M609 264.5h1M633 264.5h2M652 264.5h1M872 204.5h2M566 305.5h1M770 305.5h2M564 307.5h1M766 307.5h2M13 110.5h1M519 322.5h2M552 322.5h2M716 322.5h1M574 298.5h1M777 298.5h1M150 229.5h1M274 229.5h1M321 229.5h2M833 229.5h1M163 237.5h1M279 237.5h1M309 237.5h1M826 237.5h1M802 278.5h1M76 182.5h9M104 182.5h8M218 182.5h1M709 316.5h2M756 316.5h1M119 185.5h2M214 185.5h1M57 165.5h1M565 306.5h1M768 306.5h2M67 174.5h2M570 301.5h1M775 301.5h1M175 246.5h2M183 246.5h2M179 248.5h2M204 197.5h1M865 208.5h2M73 181.5h3M85 181.5h2M100 181.5h4M219 181.5h1M608 265.5h1M653 265.5h1M63 171.5h1M131 189.5h1M210 189.5h1M654 266.5h2M167 242.5h2M187 242.5h1M303 242.5h1M579 294.5h2M781 294.5h1M599 275.5h1M685 275.5h2M867 207.5h2M598 276.5h1M687 276.5h1M601 272.5h1M679 272.5h3M255 210.5h1M862 210.5h1M323 228.5h2M834 228.5h1M206 194.5h1M453 194.5h1M705 313.5h2M758 313.5h1M20 117.5h1M387 117.5h1M408 117.5h1M915 117.5h1M611 261.5h1M626 261.5h2M639 261.5h2M645 261.5h4M166 241.5h1M304 241.5h1M271 224.5h1M327 224.5h1M838 224.5h1M585 290.5h1M787 290.5h4M487 259.5h1M614 259.5h2M622 259.5h2M567 304.5h1M772 304.5h1M161 236.5h2M310 236.5h2M827 236.5h1M117 184.5h2M215 184.5h2M591 284.5h1M796 284.5h1M281 240.5h1M305 240.5h2M874 203.5h2M689 279.5h1M801 279.5h1M177 247.5h2M181 247.5h2M763 309.5h2M269 223.5h2M839 223.5h1M151 230.5h1M320 230.5h1M832 230.5h1M378 129.5h1M571 300.5h2M597 277.5h1M803 277.5h1M263 219.5h2M330 219.5h1M843 219.5h3M851 219.5h4M24 121.5h1M384 121.5h1M413 121.5h2M16 113.5h1M392 113.5h1M403 113.5h2M173 245.5h2M292 245.5h4M573 299.5h1M577 296.5h1M779 296.5h1M569 302.5h1M774 302.5h1M208 192.5h1M203 198.5h1M461 209.5h1M863 209.5h2M59 167.5h1M588 287.5h1M518 321.5h1M554 321.5h2M715 321.5h1M155 233.5h2M315 233.5h2M829 233.5h1M595 280.5h1M800 280.5h1M42 149.5h1M367 149.5h1M431 149.5h1M66 173.5h1M612 260.5h2M624 260.5h2M641 260.5h4M383 122.5h1M415 122.5h1M169 243.5h2M186 243.5h1M283 243.5h3M300 243.5h3M603 270.5h1M671 270.5h4M563 308.5h1M765 308.5h1M602 271.5h1M675 271.5h4M262 218.5h1M855 218.5h2M61 169.5h1M62 170.5h1M69 175.5h1M230 175.5h3M87 180.5h2M98 180.5h2M220 180.5h1M886 180.5h1M512 314.5h1M707 314.5h1M578 295.5h1M780 295.5h1M704 312.5h1M759 312.5h1M154 232.5h1M317 232.5h1M830 232.5h1M521 323.5h1M550 323.5h2M717 323.5h1M261 217.5h1M857 217.5h1M64 172.5h2M380 126.5h1M419 126.5h1M71 178.5h1M223 178.5h1M237 178.5h2M266 221.5h2M841 221.5h1M583 291.5h2M785 291.5h2M256 211.5h1M592 283.5h1M797 283.5h1M604 269.5h2M667 269.5h4M22 119.5h1M410 119.5h2M913 119.5h1M44 151.5h2M307 239.5h1M824 239.5h1M513 315.5h1M560 315.5h1M708 315.5h1M148 226.5h1M836 226.5h1M259 215.5h1M58 166.5h1M516 319.5h1M557 319.5h1M713 319.5h1M517 320.5h1M556 320.5h1M714 320.5h1M14 111.5h1M396 111.5h5M369 146.5h1M9 105.5h1M616 258.5h6M484 254.5h1M260 216.5h1M593 282.5h1M798 282.5h1M60 168.5h1M164 238.5h1M308 238.5h1M825 238.5h1M26 124.5h1M417 124.5h1M27 125.5h1M381 125.5h1M418 125.5h1M17 114.5h1M391 114.5h1M405 114.5h1M731 335.5h3M11 107.5h1M568 303.5h1M773 303.5h1M41 148.5h1M416 123.5h1M29 128.5h1M47 153.5h1M10 106.5h1M922 106.5h1M23 120.5h1M412 120.5h1M869 206.5h1M325 227.5h1M835 227.5h1M48 154.5h1M364 154.5h1M268 222.5h1M840 222.5h1M589 286.5h1M132 190.5h1M345 190.5h1M723 330.5h2M870 205.5h2M725 331.5h1M746 331.5h1M837 225.5h1M8 104.5h1M711 317.5h1M755 317.5h1M582 292.5h1M784 292.5h1M257 212.5h1M49 155.5h1M53 158.5h1M436 158.5h1M575 297.5h2M778 297.5h1M722 329.5h1M39 145.5h1M46 152.5h1M684 274.5h1M805 274.5h1M52 157.5h1M207 193.5h1M860 213.5h1M43 150.5h1M420 127.5h1M726 332.5h1M745 332.5h1M133 191.5h1M721 328.5h1M748 328.5h1M35 139.5h1M340 199.5h1" fill="none" stroke="#ff0000" stroke-width="1" shape-rendering="crispEdges"/>
<path d="M832.5 251v2M477.5 212v2M282.5 220v2M368.5 172v2M371.5 167v2M868.5 219v2M149.5 212v2M447.5 153v2M455.5 166v2M494.5 246v2M919.5 148v2M279.5 214v2M378.5 157v2M146.5 207v2M367.5 174v2M390.5 139v2M469.5 195v3M359.5 189v2M498.5 256v3M778.5 311v2M483.5 224v2M880.5 198v2M883.5 193v2M776.5 314v2M225.5 203v2M374.5 163v2M363.5 182v2M458.5 172v2M355.5 196v2M281.5 218v2M801.5 290v2M454.5 164v2M138.5 194v2M583.5 305v2M501.5 264v3M693.5 285v2M468.5 193v2M690.5 279v2M526.5 301v2M479.5 216v2M867.5 221v2M385.5 145v2M476.5 210v2M480.5 218v2M457.5 170v2M141.5 199v2M450.5 157v2M910.5 160v2M44.5 134v2M278.5 212v2M137.5 192v2M887.5 185v2M500.5 262v2M490.5 238v2M381.5 152v2M522.5 295v2M482.5 222v2M465.5 186v2M478.5 214v2M590.5 294v2M366.5 176v2M835.5 247v2M873.5 209v2M913.5 156v2M453.5 162v2M475.5 208v2M493.5 244v2M148.5 210v2M882.5 195v2M277.5 210v2M586.5 300v2M499.5 259v3M342.5 214v2M814.5 272v2M869.5 217v2M922.5 142v2M810.5 278v2M640.5 266v2M25.5 106v2M33.5 119v2M280.5 216v2M822.5 261v2M886.5 187v2M779.5 309v2M492.5 242v2M220.5 210v2M893.5 177v2M467.5 191v2M227.5 200v2M365.5 178v2M357.5 192v2M474.5 206v2M223.5 206v2M495.5 248v3M430.5 136v2M876.5 204v2M503.5 269v2M361.5 185v2M506.5 274v2M353.5 199v2M517.5 289v2M489.5 236v2M452.5 160v2M837.5 244v2M466.5 188v3M872.5 211v2M384.5 147v2M806.5 284v2M809.5 280v2M376.5 160v2M888.5 183v2M496.5 251v3M32.5 117v2M35.5 122v2M473.5 204v2M491.5 240v2M28.5 110v2M585.5 302v2M502.5 267v2M364.5 180v2M488.5 234v2M230.5 195v2M592.5 291v2M783.5 304v2M463.5 182v2M360.5 187v2M818.5 266v2M31.5 115v2M344.5 211v2M470.5 198v2M871.5 213v2M356.5 194v2M487.5 232v2M875.5 206v2M812.5 275v2M379.5 155v2M462.5 180v2M38.5 127v2M444.5 149v2M30.5 113v2M505.5 272v2M229.5 197v2M588.5 297v2M135.5 189v2M497.5 254v2M854.5 235v2M642.5 263v2M878.5 201v2M461.5 178v2M37.5 125v2M508.5 277v2M472.5 202v2M511.5 282v2M347.5 207v2M350.5 203v2M486.5 230v2M464.5 184v2M815.5 270v2M870.5 215v2M382.5 150v2M921.5 144v2M471.5 200v2M369.5 170v2M594.5 288v2M917.5 151v2M884.5 191v2M69.5 156v2M144.5 204v2M485.5 228v2M885.5 189v2M460.5 176v2M510.5 280v2M273.5 205v2M140.5 197v2M692.5 283v2M920.5 146v2M481.5 220v2M340.5 217v2M459.5 174v2M456.5 168v2M143.5 202v2M72.5 160v2M691.5 281v2M484.5 226v2M524.5 298v2M153 216.5h2M213 216.5h1M341 216.5h1M142 201.5h1M268 201.5h2M352 201.5h1M258 197.5h4M881 197.5h1M717 302.5h1M785 302.5h1M123 184.5h5M362 184.5h1M529 305.5h2M720 305.5h1M53 142.5h2M388 142.5h1M435 142.5h1M549 318.5h2M567 318.5h3M740 318.5h2M773 318.5h1M558 321.5h4M746 321.5h2M769 321.5h2M547 317.5h2M570 317.5h1M737 317.5h3M774 317.5h1M402 128.5h2M420 128.5h1M523 297.5h1M708 297.5h2M793 297.5h2M306 236.5h13M603 281.5h2M531 306.5h1M721 306.5h1M782 306.5h1M155 217.5h3M212 217.5h1M514 286.5h1M596 286.5h2M805 286.5h1M546 316.5h1M571 316.5h2M734 316.5h3M775 316.5h1M825 258.5h1M89 171.5h1M899 171.5h2M646 261.5h13M84 168.5h2M903 168.5h1M165 222.5h1M193 222.5h1M283 222.5h2M336 222.5h1M166 223.5h1M191 223.5h2M285 223.5h1M335 223.5h1M866 223.5h1M395 134.5h1M428 134.5h1M150 214.5h1M216 214.5h1M228 199.5h1M264 199.5h2M71 159.5h1M377 159.5h1M451 159.5h1M911 159.5h1M90 172.5h2M898 172.5h1M217 213.5h2M343 213.5h1M541 313.5h1M575 313.5h2M729 313.5h1M777 313.5h1M42 132.5h1M398 132.5h1M426 132.5h1M643 262.5h3M659 262.5h5M405 126.5h13M553 320.5h5M562 320.5h2M744 320.5h2M771 320.5h1M589 296.5h1M705 296.5h3M795 296.5h1M535 309.5h1M580 309.5h1M724 309.5h1M169 226.5h2M186 226.5h2M289 226.5h1M332 226.5h1M863 226.5h1M93 174.5h1M896 174.5h1M113 183.5h10M667 264.5h2M820 264.5h1M754 324.5h10M139 196.5h1M253 196.5h5M235 192.5h12M163 221.5h2M194 221.5h2M337 221.5h1M68 155.5h1M448 155.5h1M914 155.5h1M39 129.5h1M401 129.5h1M421 129.5h2M636 270.5h1M678 270.5h2M507 276.5h1M614 276.5h4M687 276.5h1M527 303.5h1M718 303.5h1M784 303.5h1M158 218.5h2M210 218.5h2M623 273.5h6M683 273.5h1M101 180.5h1M891 180.5h1M839 242.5h2M521 294.5h1M701 294.5h2M797 294.5h2M174 229.5h4M181 229.5h2M294 229.5h1M329 229.5h1M860 229.5h1M504 271.5h1M634 271.5h2M680 271.5h2M266 200.5h2M879 200.5h1M587 299.5h1M712 299.5h2M790 299.5h2M160 219.5h2M198 219.5h12M339 219.5h1M300 233.5h2M324 233.5h2M856 233.5h1M130 186.5h2M41 131.5h1M399 131.5h1M424 131.5h2M105 182.5h8M889 182.5h1M404 127.5h1M418 127.5h2M23 104.5h1M751 323.5h3M764 323.5h2M639 268.5h1M675 268.5h2M817 268.5h1M600 283.5h2M807 283.5h1M145 206.5h1M348 206.5h1M262 198.5h2M354 198.5h1M274 207.5h1M304 235.5h2M319 235.5h2M168 225.5h1M188 225.5h1M287 225.5h2M333 225.5h1M864 225.5h1M233 193.5h2M247 193.5h2M222 208.5h1M275 208.5h1M874 208.5h1M637 269.5h2M677 269.5h1M816 269.5h1M641 265.5h1M669 265.5h2M819 265.5h1M171 227.5h1M185 227.5h1M290 227.5h2M331 227.5h1M862 227.5h1M55 143.5h1M387 143.5h1M436 143.5h2M82 167.5h2M904 167.5h1M544 315.5h2M573 315.5h1M732 315.5h2M172 228.5h2M183 228.5h2M292 228.5h2M330 228.5h1M861 228.5h1M537 311.5h2M578 311.5h1M726 311.5h1M60 148.5h1M443 148.5h1M664 263.5h3M821 263.5h1M151 215.5h2M214 215.5h2M844 239.5h8M147 209.5h1M221 209.5h1M276 209.5h1M346 209.5h1M302 234.5h2M321 234.5h3M855 234.5h1M86 169.5h1M370 169.5h1M902 169.5h1M78 165.5h2M373 165.5h1M906 165.5h1M515 287.5h1M595 287.5h1M694 287.5h1M804 287.5h1M533 308.5h2M581 308.5h1M723 308.5h1M780 308.5h1M297 231.5h2M327 231.5h1M858 231.5h1M620 274.5h3M684 274.5h1M813 274.5h1M80 166.5h2M372 166.5h1M905 166.5h1M74 163.5h2M908 163.5h1M59 147.5h1M442 147.5h1M224 205.5h1M349 205.5h1M629 272.5h5M682 272.5h1M96 176.5h1M894 176.5h1M178 230.5h3M295 230.5h2M328 230.5h1M859 230.5h1M43 133.5h1M396 133.5h2M427 133.5h1M610 277.5h4M688 277.5h1M811 277.5h1M525 300.5h1M714 300.5h2M788 300.5h2M102 181.5h3M890 181.5h1M528 304.5h1M584 304.5h1M719 304.5h1M838 243.5h1M167 224.5h1M189 224.5h2M286 224.5h1M334 224.5h1M865 224.5h1M532 307.5h1M582 307.5h1M722 307.5h1M781 307.5h1M26 108.5h1M136 191.5h1M358 191.5h1M99 179.5h2M892 179.5h1M449 156.5h1M748 322.5h3M766 322.5h3M696 289.5h1M802 289.5h1M251 195.5h2M602 282.5h1M808 282.5h1M40 130.5h1M400 130.5h1M423 130.5h1M593 290.5h1M697 290.5h1M509 279.5h1M606 279.5h2M827 256.5h2M542 314.5h2M574 314.5h1M730 314.5h2M710 298.5h2M792 298.5h1M618 275.5h2M685 275.5h2M842 240.5h2M47 138.5h1M391 138.5h1M431 138.5h1M66 153.5h1M916 153.5h1M231 194.5h2M249 194.5h2M162 220.5h1M196 220.5h2M338 220.5h1M345 210.5h1M51 141.5h2M389 141.5h1M434 141.5h1M834 249.5h1M94 175.5h2M895 175.5h1M299 232.5h1M326 232.5h1M857 232.5h1M64 152.5h2M446 152.5h1M608 278.5h2M689 278.5h1M829 255.5h1M132 187.5h2M703 295.5h2M796 295.5h1M536 310.5h1M579 310.5h1M725 310.5h1M128 185.5h2M49 140.5h2M433 140.5h1M61 149.5h1M383 149.5h1M539 312.5h2M577 312.5h1M727 312.5h2M673 267.5h2M24 105.5h1M58 146.5h1M440 146.5h2M70 158.5h1M912 158.5h1M87 170.5h2M901 170.5h1M67 154.5h1M380 154.5h1M915 154.5h1M46 137.5h1M392 137.5h1M852 238.5h1M76 164.5h2M907 164.5h1M716 301.5h1M786 301.5h2M516 288.5h1M695 288.5h1M803 288.5h1M671 266.5h2M519 292.5h1M699 292.5h1M800 292.5h1M551 319.5h2M564 319.5h3M742 319.5h2M772 319.5h1M841 241.5h1M394 135.5h1M429 135.5h1M45 136.5h1M393 136.5h1M226 202.5h1M270 202.5h1M351 202.5h1M518 291.5h1M698 291.5h1M824 259.5h1M97 177.5h1M62 150.5h1M918 150.5h1M27 109.5h1M98 178.5h1M56 144.5h1M386 144.5h1M438 144.5h1M836 246.5h1M831 253.5h1M512 284.5h1M599 284.5h1M34 121.5h1M48 139.5h1M432 139.5h1M73 162.5h1M375 162.5h1M909 162.5h1M63 151.5h1M445 151.5h1M271 203.5h1M877 203.5h1M520 293.5h1M591 293.5h1M700 293.5h1M799 293.5h1M92 173.5h1M897 173.5h1M134 188.5h1M36 124.5h1M29 112.5h1M826 257.5h1M57 145.5h1M439 145.5h1M605 280.5h1M830 254.5h1M833 250.5h1M853 237.5h1M513 285.5h1M598 285.5h1M823 260.5h1M219 212.5h1M272 204.5h1" fill="none" stroke="#0000cd" stroke-width="1" shape-rendering="crispEdges"/>
<g shape-rendering="crispEdges">
<rect x="227" y="76" width="940" height="2" fill="#ff0000"/>
<rect x="3" y="77" width="1" height="1" fill="#ff0000"/><rect x="3" y="98" width="1" height="1" fill="#ff0000"/><rect x="3" y="92" width="1" height="1" fill="#0000ff"/>
<rect x="3" y="161" width="1162" height="2" fill="#00ff00"/>
<rect x="2" y="159" width="6" height="6" fill="#00ff00"/><rect x="4" y="161" width="2" height="2" fill="#fff"/>
<rect x="1159" y="159" width="6" height="6" fill="#00ff00"/><rect x="1161" y="161" width="2" height="2" fill="#fff"/>
<rect x="3" y="246" width="1162" height="2" fill="#0000ff"/>
<rect x="2" y="244" width="6" height="6" fill="#0000ff"/><rect x="4" y="246" width="2" height="2" fill="#fff"/>
<rect x="1159" y="244" width="6" height="6" fill="#0000ff"/><rect x="1161" y="246" width="2" height="2" fill="#fff"/>
<rect x="3" y="330" width="1162" height="2" fill="#0000cd"/>
<rect x="3" y="411" width="1162" height="2" fill="#0000ff"/>
</g>
<g shape-rendering="crispEdges">
<rect x="1166" y="84" width="2" height="1" fill="#000"/>
<rect x="1166" y="117" width="2" height="1" fill="#000"/>
<rect x="1166" y="150" width="2" height="1" fill="#000"/>
<rect x="1166" y="183" width="2" height="1" fill="#000"/>
<rect x="1166" y="216" width="2" height="1" fill="#000"/>
<rect x="1166" y="249" width="2" height="1" fill="#000"/>
<rect x="1166" y="282" width="2" height="1" fill="#000"/>
<rect x="1166" y="315" width="2" height="1" fill="#000"/>
<rect x="1166" y="348" width="2" height="1" fill="#000"/>
<rect x="1166" y="381" width="2" height="1" fill="#000"/>
<rect x="1166" y="414" width="2" height="1" fill="#000"/>
</g>
<text x="1171" y="87.5" class="c" textLength="33" lengthAdjust="spacingAndGlyphs">0.75380</text>
<text x="1171" y="120.5" class="c" textLength="33" lengthAdjust="spacingAndGlyphs">0.74795</text>
<text x="1171" y="153.5" class="c" textLength="33" lengthAdjust="spacingAndGlyphs">0.74210</text>
<text x="1171" y="186.5" class="c" textLength="33" lengthAdjust="spacingAndGlyphs">0.73625</text>
<text x="1171" y="219.5" class="c" textLength="33" lengthAdjust="spacingAndGlyphs">0.73040</text>
<text x="1171" y="252.5" class="c" textLength="33" lengthAdjust="spacingAndGlyphs">0.72455</text>
<text x="1171" y="285.5" class="c" textLength="33" lengthAdjust="spacingAndGlyphs">0.71885</text>
<text x="1171" y="318.5" class="c" textLength="33" lengthAdjust="spacingAndGlyphs">0.71300</text>
<text x="1171" y="351.5" class="c" textLength="33" lengthAdjust="spacingAndGlyphs">0.70715</text>
<text x="1171" y="384.5" class="c" textLength="33" lengthAdjust="spacingAndGlyphs">0.70130</text>
<text x="1171" y="417.5" class="c" textLength="33" lengthAdjust="spacingAndGlyphs">0.69545</text>
<rect x="1167" y="44" width="39" height="11" fill="#000" shape-rendering="crispEdges"/>
<text x="1171.5" y="52.5" class="w" textLength="32.5" lengthAdjust="spacingAndGlyphs">0.76005</text>
<rect x="1167" y="71" width="39" height="11" fill="#ff0000" shape-rendering="crispEdges"/>
<text x="1171.5" y="79.5" class="w" textLength="32.5" lengthAdjust="spacingAndGlyphs">0.75512</text>
<rect x="1167" y="156" width="39" height="11" fill="#00ff00" shape-rendering="crispEdges"/>
<text x="1171.5" y="164.5" class="w" textLength="32.5" lengthAdjust="spacingAndGlyphs">0.74002</text>
<rect x="1167" y="241" width="39" height="11" fill="#0000ff" shape-rendering="crispEdges"/>
<text x="1171.5" y="249.5" class="w" textLength="32.5" lengthAdjust="spacingAndGlyphs">0.72504</text>
<rect x="1167" y="325" width="39" height="11" fill="#0000cd" shape-rendering="crispEdges"/>
<text x="1171.5" y="333.5" class="w" textLength="32.5" lengthAdjust="spacingAndGlyphs">0.71013</text>
<rect x="1167" y="406" width="39" height="11" fill="#0000ff" shape-rendering="crispEdges"/>
<text x="1171.5" y="414.5" class="w" textLength="32.5" lengthAdjust="spacingAndGlyphs">0.69582</text>
<rect x="1166" y="51" width="1" height="1" fill="#000"/>
<g shape-rendering="crispEdges"><rect x="2" y="417" width="1164" height="1" fill="#000"/><rect x="1165" y="25" width="1" height="393" fill="#000"/></g>
<path d="M6 36 L9.5 32 L13 36 Z" fill="#000"/>
<text x="18.5" y="37" class="c" textLength="68.5" lengthAdjust="spacingAndGlyphs">AUDUSD-,Daily</text>
<text x="93" y="37" class="c" textLength="32.6" lengthAdjust="spacingAndGlyphs">0.75412</text>
<text x="129.3" y="37" class="c" textLength="32.6" lengthAdjust="spacingAndGlyphs">0.76078</text>
<text x="165.3" y="37" class="c" textLength="32.6" lengthAdjust="spacingAndGlyphs">0.75346</text>
<text x="201.1" y="37" class="c" textLength="32.6" lengthAdjust="spacingAndGlyphs">0.76005</text>
<g shape-rendering="crispEdges" fill="#c0c0c0">
<rect x="3" y="453" width="2" height="20"/>
<rect x="6" y="453" width="3" height="20"/>
<rect x="10" y="453" width="3" height="19"/>
<rect x="14" y="453" width="3" height="19"/>
<rect x="18" y="453" width="3" height="20"/>
<rect x="22" y="453" width="3" height="20"/>
<rect x="26" y="453" width="3" height="22"/>
<rect x="30" y="453" width="3" height="24"/>
<rect x="34" y="453" width="3" height="25"/>
<rect x="38" y="453" width="3" height="26"/>
<rect x="42" y="453" width="3" height="25"/>
<rect x="46" y="453" width="3" height="25"/>
<rect x="50" y="453" width="3" height="24"/>
<rect x="54" y="453" width="3" height="23"/>
<rect x="58" y="453" width="3" height="22"/>
<rect x="62" y="453" width="3" height="20"/>
<rect x="66" y="453" width="3" height="19"/>
<rect x="70" y="453" width="3" height="19"/>
<rect x="74" y="453" width="3" height="19"/>
<rect x="78" y="453" width="3" height="18"/>
<rect x="82" y="453" width="3" height="17"/>
<rect x="86" y="453" width="3" height="14"/>
<rect x="90" y="453" width="3" height="13"/>
<rect x="94" y="453" width="3" height="12"/>
<rect x="98" y="453" width="3" height="13"/>
<rect x="102" y="453" width="3" height="14"/>
<rect x="106" y="453" width="3" height="14"/>
<rect x="110" y="453" width="3" height="13"/>
<rect x="114" y="453" width="3" height="12"/>
<rect x="118" y="453" width="3" height="11"/>
<rect x="122" y="453" width="3" height="10"/>
<rect x="126" y="453" width="3" height="10"/>
<rect x="130" y="453" width="3" height="12"/>
<rect x="134" y="453" width="3" height="15"/>
<rect x="138" y="453" width="3" height="19"/>
<rect x="142" y="453" width="3" height="24"/>
<rect x="146" y="453" width="3" height="27"/>
<rect x="150" y="453" width="3" height="26"/>
<rect x="154" y="453" width="3" height="24"/>
<rect x="158" y="453" width="3" height="22"/>
<rect x="162" y="453" width="3" height="20"/>
<rect x="166" y="453" width="3" height="17"/>
<rect x="170" y="453" width="3" height="14"/>
<rect x="174" y="453" width="3" height="12"/>
<rect x="178" y="453" width="3" height="9"/>
<rect x="182" y="453" width="3" height="6"/>
<rect x="186" y="453" width="3" height="2"/>
<rect x="190" y="450" width="3" height="3"/>
<rect x="194" y="446" width="3" height="7"/>
<rect x="198" y="444" width="3" height="9"/>
<rect x="202" y="444" width="3" height="9"/>
<rect x="206" y="445" width="3" height="8"/>
<rect x="210" y="445" width="3" height="8"/>
<rect x="214" y="446" width="3" height="7"/>
<rect x="218" y="446" width="3" height="7"/>
<rect x="222" y="447" width="3" height="6"/>
<rect x="226" y="449" width="3" height="4"/>
<rect x="230" y="451" width="3" height="2"/>
<rect x="234" y="452" width="3" height="1"/>
<rect x="238" y="453" width="3" height="2"/>
<rect x="242" y="453" width="3" height="4"/>
<rect x="246" y="453" width="3" height="6"/>
<rect x="250" y="453" width="3" height="9"/>
<rect x="254" y="453" width="3" height="9"/>
<rect x="258" y="453" width="3" height="8"/>
<rect x="262" y="453" width="3" height="9"/>
<rect x="266" y="453" width="3" height="9"/>
<rect x="270" y="453" width="3" height="8"/>
<rect x="274" y="453" width="3" height="9"/>
<rect x="278" y="453" width="3" height="11"/>
<rect x="282" y="453" width="3" height="13"/>
<rect x="286" y="453" width="3" height="11"/>
<rect x="290" y="453" width="3" height="9"/>
<rect x="294" y="453" width="3" height="8"/>
<rect x="298" y="453" width="3" height="7"/>
<rect x="302" y="453" width="3" height="5"/>
<rect x="306" y="453" width="3" height="4"/>
<rect x="310" y="453" width="3" height="2"/>
<rect x="314" y="453" width="3" height="2"/>
<rect x="318" y="452" width="3" height="1"/>
<rect x="322" y="451" width="3" height="2"/>
<rect x="326" y="449" width="3" height="4"/>
<rect x="330" y="446" width="3" height="7"/>
<rect x="334" y="443" width="3" height="10"/>
<rect x="338" y="441" width="3" height="12"/>
<rect x="342" y="440" width="3" height="13"/>
<rect x="346" y="438" width="3" height="15"/>
<rect x="350" y="435" width="3" height="18"/>
<rect x="354" y="434" width="3" height="19"/>
<rect x="358" y="434" width="3" height="19"/>
<rect x="362" y="434" width="3" height="19"/>
<rect x="366" y="433" width="3" height="20"/>
<rect x="370" y="432" width="3" height="21"/>
<rect x="374" y="432" width="3" height="21"/>
<rect x="378" y="431" width="3" height="22"/>
<rect x="382" y="431" width="3" height="22"/>
<rect x="386" y="431" width="3" height="22"/>
<rect x="390" y="433" width="3" height="20"/>
<rect x="394" y="435" width="3" height="18"/>
<rect x="398" y="437" width="3" height="16"/>
<rect x="402" y="440" width="3" height="13"/>
<rect x="406" y="443" width="3" height="10"/>
<rect x="410" y="446" width="3" height="7"/>
<rect x="414" y="448" width="3" height="5"/>
<rect x="418" y="450" width="3" height="3"/>
<rect x="422" y="453" width="3" height="2"/>
<rect x="426" y="453" width="3" height="6"/>
<rect x="430" y="453" width="3" height="7"/>
<rect x="434" y="453" width="3" height="9"/>
<rect x="438" y="453" width="3" height="9"/>
<rect x="442" y="453" width="3" height="11"/>
<rect x="446" y="453" width="3" height="13"/>
<rect x="450" y="453" width="3" height="15"/>
<rect x="454" y="453" width="3" height="17"/>
<rect x="458" y="453" width="3" height="19"/>
<rect x="462" y="453" width="3" height="20"/>
<rect x="466" y="453" width="3" height="21"/>
<rect x="470" y="453" width="3" height="22"/>
<rect x="474" y="453" width="3" height="24"/>
<rect x="478" y="453" width="3" height="26"/>
<rect x="482" y="453" width="3" height="28"/>
<rect x="486" y="453" width="3" height="28"/>
<rect x="490" y="453" width="3" height="29"/>
<rect x="494" y="453" width="3" height="29"/>
<rect x="498" y="453" width="3" height="30"/>
<rect x="502" y="453" width="3" height="34"/>
<rect x="506" y="453" width="3" height="34"/>
<rect x="510" y="453" width="3" height="34"/>
<rect x="514" y="453" width="3" height="32"/>
<rect x="518" y="453" width="3" height="28"/>
<rect x="522" y="453" width="3" height="25"/>
<rect x="526" y="453" width="3" height="22"/>
<rect x="530" y="453" width="3" height="20"/>
<rect x="534" y="453" width="3" height="18"/>
<rect x="538" y="453" width="3" height="17"/>
<rect x="542" y="453" width="3" height="16"/>
<rect x="546" y="453" width="3" height="13"/>
<rect x="550" y="453" width="3" height="13"/>
<rect x="554" y="453" width="3" height="13"/>
<rect x="558" y="453" width="3" height="13"/>
<rect x="562" y="453" width="3" height="11"/>
<rect x="566" y="453" width="3" height="8"/>
<rect x="570" y="453" width="3" height="5"/>
<rect x="574" y="453" width="3" height="2"/>
<rect x="578" y="452" width="3" height="1"/>
<rect x="582" y="451" width="3" height="2"/>
<rect x="586" y="449" width="3" height="4"/>
<rect x="590" y="448" width="3" height="5"/>
<rect x="594" y="447" width="3" height="6"/>
<rect x="598" y="445" width="3" height="8"/>
<rect x="602" y="444" width="3" height="9"/>
<rect x="606" y="446" width="3" height="7"/>
<rect x="610" y="446" width="3" height="7"/>
<rect x="614" y="448" width="3" height="5"/>
<rect x="618" y="449" width="3" height="4"/>
<rect x="622" y="450" width="3" height="3"/>
<rect x="626" y="452" width="3" height="1"/>
<rect x="630" y="453" width="3" height="1"/>
<rect x="634" y="452" width="3" height="1"/>
<rect x="638" y="450" width="3" height="3"/>
<rect x="642" y="448" width="3" height="5"/>
<rect x="646" y="449" width="3" height="4"/>
<rect x="650" y="449" width="3" height="4"/>
<rect x="654" y="450" width="3" height="3"/>
<rect x="658" y="451" width="3" height="2"/>
<rect x="662" y="451" width="3" height="2"/>
<rect x="666" y="451" width="3" height="2"/>
<rect x="670" y="453" width="3" height="1"/>
<rect x="674" y="453" width="3" height="2"/>
<rect x="678" y="453" width="3" height="3"/>
<rect x="682" y="453" width="3" height="4"/>
<rect x="686" y="453" width="3" height="6"/>
<rect x="690" y="453" width="3" height="11"/>
<rect x="694" y="453" width="3" height="16"/>
<rect x="698" y="453" width="3" height="19"/>
<rect x="702" y="453" width="3" height="19"/>
<rect x="706" y="453" width="3" height="17"/>
<rect x="710" y="453" width="3" height="15"/>
<rect x="714" y="453" width="3" height="12"/>
<rect x="718" y="453" width="3" height="13"/>
<rect x="722" y="453" width="3" height="13"/>
<rect x="726" y="453" width="3" height="12"/>
<rect x="730" y="453" width="3" height="10"/>
<rect x="734" y="453" width="3" height="7"/>
<rect x="738" y="453" width="3" height="4"/>
<rect x="742" y="453" width="3" height="5"/>
<rect x="746" y="453" width="3" height="4"/>
<rect x="750" y="453" width="3" height="4"/>
<rect x="754" y="453" width="3" height="3"/>
<rect x="758" y="453" width="3" height="1"/>
<rect x="762" y="452" width="3" height="1"/>
<rect x="766" y="451" width="3" height="2"/>
<rect x="770" y="450" width="3" height="3"/>
<rect x="774" y="450" width="3" height="3"/>
<rect x="778" y="448" width="3" height="5"/>
<rect x="782" y="447" width="3" height="6"/>
<rect x="786" y="448" width="3" height="5"/>
<rect x="790" y="446" width="3" height="7"/>
<rect x="794" y="447" width="3" height="6"/>
<rect x="798" y="445" width="3" height="8"/>
<rect x="802" y="443" width="3" height="10"/>
<rect x="806" y="441" width="3" height="12"/>
<rect x="810" y="438" width="3" height="15"/>
<rect x="814" y="435" width="3" height="18"/>
<rect x="818" y="432" width="3" height="21"/>
<rect x="822" y="432" width="3" height="21"/>
<rect x="826" y="434" width="3" height="19"/>
<rect x="830" y="435" width="3" height="18"/>
<rect x="834" y="434" width="3" height="19"/>
<rect x="838" y="436" width="3" height="17"/>
<rect x="842" y="437" width="3" height="16"/>
<rect x="846" y="441" width="3" height="12"/>
<rect x="850" y="445" width="3" height="8"/>
<rect x="854" y="445" width="3" height="8"/>
<rect x="858" y="442" width="3" height="11"/>
<rect x="862" y="440" width="3" height="13"/>
<rect x="866" y="437" width="3" height="16"/>
<rect x="870" y="436" width="3" height="17"/>
<rect x="874" y="433" width="3" height="20"/>
<rect x="878" y="430" width="3" height="23"/>
<rect x="882" y="427" width="3" height="26"/>
<rect x="886" y="425" width="3" height="28"/>
<rect x="890" y="424" width="3" height="29"/>
<rect x="894" y="424" width="3" height="29"/>
<rect x="898" y="424" width="3" height="29"/>
<rect x="902" y="424" width="3" height="29"/>
<rect x="906" y="425" width="3" height="28"/>
<rect x="910" y="426" width="3" height="27"/>
<rect x="914" y="428" width="3" height="25"/>
<rect x="918" y="428" width="3" height="25"/>
<rect x="922" y="426" width="3" height="27"/>
</g>
<path d="M201 455.5h2M258 455.5h2M326 455.5h2M441 455.5h1M591 455.5h2M691 455.5h2M766 455.5h2M218 446.5h17M347 446.5h2M427 446.5h2M806 446.5h3M106 466.5h7M143 466.5h2M187 466.5h1M465 466.5h2M564 466.5h3M718 466.5h3M732 466.5h2M211 449.5h2M241 449.5h4M340 449.5h2M433 449.5h1M605 449.5h3M633 449.5h6M791 449.5h7M360 439.5h2M417 439.5h2M825 439.5h3M856 439.5h13M875 439.5h5M35 474.5h9M72 474.5h4M164 474.5h10M484 474.5h3M545 474.5h2M908 425.5h15M383 432.5h15M891 432.5h1M198 457.5h2M262 457.5h3M322 457.5h2M444 457.5h1M586 457.5h3M695 457.5h2M762 457.5h2M509 482.5h2M525 482.5h5M364 437.5h4M413 437.5h2M831 437.5h2M852 437.5h2M882 437.5h2M353 443.5h2M423 443.5h1M815 443.5h2M209 450.5h2M245 450.5h3M338 450.5h2M434 450.5h1M602 450.5h3M639 450.5h37M784 450.5h7M192 462.5h1M277 462.5h6M292 462.5h14M454 462.5h3M573 462.5h3M704 462.5h2M741 462.5h3M122 464.5h15M190 464.5h1M460 464.5h2M569 464.5h2M710 464.5h4M736 464.5h3M213 448.5h2M238 448.5h3M342 448.5h2M431 448.5h2M608 448.5h4M631 448.5h2M798 448.5h4M203 454.5h1M256 454.5h2M328 454.5h3M439 454.5h2M593 454.5h2M689 454.5h2M768 454.5h4M493 477.5h4M540 477.5h2M193 461.5h1M273 461.5h4M306 461.5h4M451 461.5h3M576 461.5h2M702 461.5h2M744 461.5h4M351 444.5h2M424 444.5h1M812 444.5h3M191 463.5h1M283 463.5h9M457 463.5h3M571 463.5h2M706 463.5h4M739 463.5h2M215 447.5h3M235 447.5h3M344 447.5h3M429 447.5h2M612 447.5h19M802 447.5h4M44 475.5h6M68 475.5h4M487 475.5h3M544 475.5h1M358 440.5h2M419 440.5h1M823 440.5h2M869 440.5h6M194 460.5h2M270 460.5h3M310 460.5h5M449 460.5h2M578 460.5h3M700 460.5h2M748 460.5h4M207 451.5h2M248 451.5h2M336 451.5h2M435 451.5h2M599 451.5h3M676 451.5h7M781 451.5h3M506 481.5h3M530 481.5h4M113 465.5h9M137 465.5h6M188 465.5h2M462 465.5h3M567 465.5h2M714 465.5h4M734 465.5h2M10 472.5h13M79 472.5h4M159 472.5h2M176 472.5h2M478 472.5h3M549 472.5h2M87 470.5h5M153 470.5h3M180 470.5h2M473 470.5h3M553 470.5h3M3 473.5h7M23 473.5h12M76 473.5h3M161 473.5h3M174 473.5h2M481 473.5h3M547 473.5h2M378 433.5h5M398 433.5h8M890 433.5h1M197 458.5h1M265 458.5h2M319 458.5h3M445 458.5h2M584 458.5h2M697 458.5h2M757 458.5h5M362 438.5h2M415 438.5h2M828 438.5h3M854 438.5h2M880 438.5h2M92 469.5h4M151 469.5h2M182 469.5h2M471 469.5h2M556 469.5h3M50 476.5h18M490 476.5h3M542 476.5h2M196 459.5h1M267 459.5h3M315 459.5h4M447 459.5h2M581 459.5h3M699 459.5h1M752 459.5h5M83 471.5h4M156 471.5h3M178 471.5h2M476 471.5h2M551 471.5h2M200 456.5h1M260 456.5h2M324 456.5h2M442 456.5h2M589 456.5h2M693 456.5h2M764 456.5h2M501 479.5h2M536 479.5h2M96 468.5h4M148 468.5h3M184 468.5h2M469 468.5h2M559 468.5h2M368 436.5h4M410 436.5h3M833 436.5h2M850 436.5h2M884 436.5h2M206 452.5h1M250 452.5h3M333 452.5h3M437 452.5h1M597 452.5h2M683 452.5h4M777 452.5h4M204 453.5h2M253 453.5h3M331 453.5h2M438 453.5h1M595 453.5h2M687 453.5h2M772 453.5h5M100 467.5h6M145 467.5h3M186 467.5h1M467 467.5h2M561 467.5h3M721 467.5h11M901 427.5h3M355 442.5h2M421 442.5h2M817 442.5h3M357 441.5h1M420 441.5h1M820 441.5h3M497 478.5h4M538 478.5h2M372 435.5h3M408 435.5h2M835 435.5h15M886 435.5h2M511 483.5h14M503 480.5h3M534 480.5h2M349 445.5h2M425 445.5h2M809 445.5h3M898 428.5h3M904 426.5h4M894 430.5h2M896 429.5h2M375 434.5h3M406 434.5h2M888 434.5h2M892 431.5h2" fill="none" stroke="#ff0000" stroke-width="1" shape-rendering="crispEdges"/>
<text x="7.5" y="432" class="c" textLength="65.5" lengthAdjust="spacingAndGlyphs">MACD(12,26,9)</text>
<text x="76" y="432" class="c" textLength="38" lengthAdjust="spacingAndGlyphs">0.006800</text>
<text x="117" y="432" class="c" textLength="38.3" lengthAdjust="spacingAndGlyphs">0.006849</text>
<g shape-rendering="crispEdges"><rect x="1166" y="421" width="2" height="1"/><rect x="1166" y="453" width="2" height="1"/><rect x="1166" y="490" width="2" height="1"/></g>
<text x="1169.5" y="430" class="c" textLength="38" lengthAdjust="spacingAndGlyphs">0.008061</text>
<text x="1169.5" y="457" class="c" textLength="17" lengthAdjust="spacingAndGlyphs">0.00</text>
<text x="1169.5" y="488" class="c" textLength="41" lengthAdjust="spacingAndGlyphs">-0.009286</text>
<g shape-rendering="crispEdges" stroke="#c0c0c0" stroke-width="1" stroke-dasharray="3 3">
<line x1="4" y1="516.5" x2="1165" y2="516.5"/><line x1="4" y1="545.5" x2="1165" y2="545.5"/>
</g>
<path d="M391.5 519v2M346.5 516v2M354.5 519v2M699.5 545v2M836.5 523v2M566.5 527v2M603.5 522v2M148.5 545v2M395.5 529v2M618.5 533v2M512.5 543v2M353.5 517v2M394.5 526v3M511.5 545v2M201.5 523v2M638.5 524v2M797.5 526v2M402.5 530v2M717.5 533v2M854.5 529v2M257.5 536v2M838.5 526v2M607.5 531v2M352.5 515v2M256.5 538v2M689.5 542v2M542.5 532v2M645.5 526v2M857.5 525v2M317.5 527v2M788.5 529v2M820.5 517v2M515.5 537v2M637.5 526v2M644.5 524v2M13.5 538v2M853.5 531v2M606.5 529v2M647.5 530v2M164.5 534v2M344.5 519v2M401.5 528v2M393.5 524v2M225.5 531v2M281.5 538v2M202.5 525v2M646.5 528v2M403.5 532v2M636.5 528v2M514.5 539v2M703.5 537v2M609.5 529v2M822.5 520v2M69.5 538v2M605.5 526v3M429.5 539v2M787.5 530v2M392.5 521v3M259.5 532v2M790.5 526v2M786.5 528v2M129.5 538v2M844.5 529v2M824.5 523v2M702.5 539v2M258.5 534v2M604.5 524v2M166.5 531v2M705.5 534v2M846.5 532v2M701.5 541v2M150.5 541v2M785.5 526v2M826.5 526v2M685.5 537v2M784.5 524v2M564.5 530v2M852.5 533v2M149.5 543v2M233.5 533v2M513.5 541v2M700.5 543v2M540.5 535v2M616.5 530v2M277.5 538v2M185 525.5h1M319 525.5h2M324 525.5h1M569 525.5h19M777 525.5h1M791 525.5h1M798 525.5h1M825 525.5h1M831 525.5h1M837 525.5h1M188 522.5h1M198 522.5h3M328 522.5h1M599 522.5h4M806 522.5h2M823 522.5h1M835 522.5h1M861 522.5h9M872 522.5h1M913 522.5h3M80 535.5h1M94 535.5h1M109 535.5h1M113 535.5h2M116 535.5h1M125 535.5h2M156 535.5h1M161 535.5h2M234 535.5h1M262 535.5h1M265 535.5h2M273 535.5h2M284 535.5h1M418 535.5h1M517 535.5h1M535 535.5h2M553 535.5h4M560 535.5h1M619 535.5h1M677 535.5h2M681 535.5h3M718 535.5h1M721 535.5h3M849 535.5h3M28 543.5h1M37 543.5h2M134 543.5h2M455 543.5h2M29 544.5h2M36 544.5h1M136 544.5h1M457 544.5h11M690 544.5h1M167 530.5h2M172 530.5h2M176 530.5h2M224 530.5h1M292 530.5h9M304 530.5h1M314 530.5h2M635 530.5h1M649 530.5h4M663 530.5h5M729 530.5h3M740 530.5h1M746 530.5h3M753 530.5h3M139 547.5h1M146 547.5h2M473 547.5h3M482 547.5h1M489 547.5h4M510 547.5h1M694 547.5h3M174 531.5h2M231 531.5h1M290 531.5h2M301 531.5h3M543 531.5h5M608 531.5h1M633 531.5h2M648 531.5h1M653 531.5h3M661 531.5h2M668 531.5h1M714 531.5h2M727 531.5h2M741 531.5h2M744 531.5h2M749 531.5h4M845 531.5h1M345 518.5h1M368 518.5h2M372 518.5h2M376 518.5h2M382 518.5h6M812 518.5h2M878 518.5h7M889 518.5h3M920 518.5h1M191 520.5h3M331 520.5h3M341 520.5h2M362 520.5h3M809 520.5h2M875 520.5h1M894 520.5h3M901 520.5h4M917 520.5h1M83 533.5h2M88 533.5h2M91 533.5h1M111 533.5h1M118 533.5h1M121 533.5h3M159 533.5h1M165 533.5h1M226 533.5h1M228 533.5h1M260 533.5h1M270 533.5h2M287 533.5h1M404 533.5h1M412 533.5h2M416 533.5h1M519 533.5h2M524 533.5h2M529 533.5h4M549 533.5h2M562 533.5h1M622 533.5h2M628 533.5h4M658 533.5h2M670 533.5h1M673 533.5h3M706 533.5h1M709 533.5h3M725 533.5h1M8 539.5h1M18 539.5h1M52 539.5h2M56 539.5h2M60 539.5h1M76 539.5h1M101 539.5h3M152 539.5h1M248 539.5h1M423 539.5h1M443 539.5h1M686 539.5h1M25 542.5h3M39 542.5h1M132 542.5h2M427 542.5h1M447 542.5h1M453 542.5h2M15 536.5h1M65 536.5h3M79 536.5h1M95 536.5h1M108 536.5h1M115 536.5h1M127 536.5h1M155 536.5h1M163 536.5h1M235 536.5h2M263 536.5h2M275 536.5h1M283 536.5h1M419 536.5h1M437 536.5h3M516 536.5h1M537 536.5h2M557 536.5h3M679 536.5h2M684 536.5h1M704 536.5h1M719 536.5h2M5 538.5h3M17 538.5h1M54 538.5h2M61 538.5h2M77 538.5h1M98 538.5h3M104 538.5h2M153 538.5h1M241 538.5h7M421 538.5h2M430 538.5h1M441 538.5h2M11 541.5h1M21 541.5h4M40 541.5h2M45 541.5h4M71 541.5h2M131 541.5h1M251 541.5h2M279 541.5h1M425 541.5h2M428 541.5h1M445 541.5h2M448 541.5h2M452 541.5h1M688 541.5h1M180 528.5h2M204 528.5h2M306 528.5h1M309 528.5h3M398 528.5h2M610 528.5h1M612 528.5h2M734 528.5h2M737 528.5h2M757 528.5h2M769 528.5h4M789 528.5h1M794 528.5h1M796 528.5h1M827 528.5h1M839 528.5h5M855 528.5h1M186 524.5h1M325 524.5h1M588 524.5h2M593 524.5h4M778 524.5h1M799 524.5h5M832 524.5h1M858 524.5h1M189 521.5h2M194 521.5h4M329 521.5h2M343 521.5h1M355 521.5h7M808 521.5h1M873 521.5h2M905 521.5h8M916 521.5h1M169 529.5h3M178 529.5h2M206 529.5h18M305 529.5h1M312 529.5h2M316 529.5h1M396 529.5h2M565 529.5h1M614 529.5h2M732 529.5h2M739 529.5h1M756 529.5h1M795 529.5h1M182 527.5h2M203 527.5h1M307 527.5h2M400 527.5h1M611 527.5h1M736 527.5h1M759 527.5h1M762 527.5h7M773 527.5h3M793 527.5h1M828 527.5h1M856 527.5h1M3 537.5h2M14 537.5h1M16 537.5h1M63 537.5h2M68 537.5h1M78 537.5h1M96 537.5h2M106 537.5h2M128 537.5h1M154 537.5h1M237 537.5h4M276 537.5h1M282 537.5h1M420 537.5h1M431 537.5h6M440 537.5h1M539 537.5h1M187 523.5h1M326 523.5h2M590 523.5h3M597 523.5h2M639 523.5h5M779 523.5h5M804 523.5h2M833 523.5h2M859 523.5h2M870 523.5h2M81 534.5h2M85 534.5h3M92 534.5h2M110 534.5h1M112 534.5h1M117 534.5h1M124 534.5h1M157 534.5h2M160 534.5h1M227 534.5h1M261 534.5h1M267 534.5h3M272 534.5h1M285 534.5h2M405 534.5h7M417 534.5h1M518 534.5h1M521 534.5h3M533 534.5h2M541 534.5h1M551 534.5h2M561 534.5h1M620 534.5h2M671 534.5h2M676 534.5h1M724 534.5h1M847 534.5h2M334 519.5h7M365 519.5h3M374 519.5h2M388 519.5h3M811 519.5h1M821 519.5h1M876 519.5h2M892 519.5h2M897 519.5h4M918 519.5h2M370 517.5h2M378 517.5h4M814 517.5h3M885 517.5h4M921 517.5h1M31 545.5h5M137 545.5h1M468 545.5h2M691 545.5h1M138 546.5h1M470 546.5h3M483 546.5h6M692 546.5h2M697 546.5h2M140 548.5h2M144 548.5h2M476 548.5h1M481 548.5h1M493 548.5h4M509 548.5h1M9 540.5h2M12 540.5h1M19 540.5h2M42 540.5h3M49 540.5h3M58 540.5h2M70 540.5h1M73 540.5h3M130 540.5h1M151 540.5h1M249 540.5h2M253 540.5h3M278 540.5h1M280 540.5h1M424 540.5h1M444 540.5h1M450 540.5h2M687 540.5h1M502 552.5h1M504 552.5h1M184 526.5h1M318 526.5h1M321 526.5h3M567 526.5h2M760 526.5h2M776 526.5h1M792 526.5h1M829 526.5h2M142 549.5h2M477 549.5h2M480 549.5h1M497 549.5h3M508 549.5h1M479 550.5h1M500 550.5h1M507 550.5h1M90 532.5h1M119 532.5h2M229 532.5h2M232 532.5h1M288 532.5h2M414 532.5h2M526 532.5h3M548 532.5h1M563 532.5h1M617 532.5h1M624 532.5h4M632 532.5h1M656 532.5h2M660 532.5h1M669 532.5h1M707 532.5h2M712 532.5h2M716 532.5h1M726 532.5h1M743 532.5h1M501 551.5h1M505 551.5h2M817 516.5h3M922 516.5h1M349 514.5h3M347 515.5h2M503 553.5h1" fill="none" stroke="#1e90ff" stroke-width="1" shape-rendering="crispEdges"/>
<text x="7.5" y="506" class="c" textLength="32.3" lengthAdjust="spacingAndGlyphs">RSI(14)</text>
<text x="42.5" y="506" class="c" textLength="32.8" lengthAdjust="spacingAndGlyphs">71.1736</text>
<g shape-rendering="crispEdges"><rect x="1166" y="495" width="2" height="1"/><rect x="1166" y="566" width="2" height="1"/></g>
<text x="1169.5" y="504" class="c" textLength="14" lengthAdjust="spacingAndGlyphs">100</text>
<text x="1168.5" y="520" class="c" textLength="9.5" lengthAdjust="spacingAndGlyphs">70</text>
<text x="1168.5" y="549" class="c" textLength="9.5" lengthAdjust="spacingAndGlyphs">30</text>
<text x="1169.5" y="564" class="c">0</text>
<g shape-rendering="crispEdges">
<rect x="3" y="568" width="1" height="3" fill="#000"/>
<rect x="67" y="568" width="1" height="3" fill="#000"/>
<rect x="131" y="568" width="1" height="3" fill="#000"/>
<rect x="195" y="568" width="1" height="3" fill="#000"/>
<rect x="259" y="568" width="1" height="3" fill="#000"/>
<rect x="323" y="568" width="1" height="3" fill="#000"/>
<rect x="387" y="568" width="1" height="3" fill="#000"/>
<rect x="451" y="568" width="1" height="3" fill="#000"/>
<rect x="515" y="568" width="1" height="3" fill="#000"/>
<rect x="579" y="568" width="1" height="3" fill="#000"/>
<rect x="643" y="568" width="1" height="3" fill="#000"/>
<rect x="707" y="568" width="1" height="3" fill="#000"/>
<rect x="771" y="568" width="1" height="3" fill="#000"/>
<rect x="835" y="568" width="1" height="3" fill="#000"/>
<rect x="899" y="568" width="1" height="3" fill="#000"/>
</g>
<text x="2.5" y="580" class="c" textLength="46.5" lengthAdjust="spacingAndGlyphs">11 Jul 2021</text>
<text x="66.5" y="580" class="c" textLength="47" lengthAdjust="spacingAndGlyphs">29 Jul 2021</text>
<text x="130.5" y="580" class="c" textLength="51.8" lengthAdjust="spacingAndGlyphs">17 Aug 2021</text>
<text x="194.5" y="580" class="c" textLength="45.8" lengthAdjust="spacingAndGlyphs">5 Sep 2021</text>
<text x="258.5" y="580" class="c" textLength="50.5" lengthAdjust="spacingAndGlyphs">23 Sep 2021</text>
<text x="322.5" y="580" class="c" textLength="49.1" lengthAdjust="spacingAndGlyphs">12 Oct 2021</text>
<text x="386.5" y="580" class="c" textLength="50.5" lengthAdjust="spacingAndGlyphs">31 Oct 2021</text>
<text x="450.5" y="580" class="c" textLength="52.7" lengthAdjust="spacingAndGlyphs">18 Nov 2021</text>
<text x="514.5" y="580" class="c" textLength="45.3" lengthAdjust="spacingAndGlyphs">7 Dec 2021</text>
<text x="578.5" y="580" class="c" textLength="50.5" lengthAdjust="spacingAndGlyphs">26 Dec 2021</text>
<text x="642.5" y="580" class="c" textLength="49.4" lengthAdjust="spacingAndGlyphs">13 Jan 2022</text>
<text x="706.5" y="580" class="c" textLength="45.7" lengthAdjust="spacingAndGlyphs">1 Feb 2022</text>
<text x="770.5" y="580" class="c" textLength="51.5" lengthAdjust="spacingAndGlyphs">20 Feb 2022</text>
<text x="834.5" y="580" class="c" textLength="51" lengthAdjust="spacingAndGlyphs">10 Mar 2022</text>
<text x="898.5" y="580" class="c" textLength="51" lengthAdjust="spacingAndGlyphs">29 Mar 2022</text>
<g shape-rendering="crispEdges">
<rect x="5" y="45" width="220" height="57" fill="#fff"/>
<rect x="6" y="45" width="52" height="25" fill="url(#gs)"/>
<rect x="173" y="45" width="52" height="25" fill="url(#gs)"/>
<rect x="6" y="69" width="109" height="33" fill="url(#gp)"/>
<rect x="117" y="69" width="108" height="33" fill="url(#gp)"/>
<rect x="10" y="68" width="44" height="1" fill="#8c0000"/><rect x="10" y="69" width="44" height="1" fill="#ff6868"/>
<rect x="177" y="68" width="44" height="1" fill="#8c0000"/><rect x="177" y="69" width="44" height="1" fill="#ff6868"/>
<path d="M6.5 102V45.5H57.5V69.5H114.5V102M117.5 102V69.5H173.5V45.5H224.5V102" fill="none" stroke="#c01414" stroke-width="1"/>
<rect x="6" y="101" width="109" height="1" fill="#a00000"/><rect x="117" y="101" width="108" height="1" fill="#a00000"/>
<rect x="60.5" y="45.5" width="110" height="21" fill="#fff" stroke="#a8acb4"/>
<rect x="61" y="46" width="20" height="20" fill="url(#gb)"/>
<rect x="150" y="46" width="20" height="20" fill="url(#gb)"/>
<rect x="81" y="46" width="1" height="20" fill="#a8acb4"/>
<rect x="149" y="46" width="1" height="20" fill="#a8acb4"/>
</g>
<path d="M68 54.3 L73 54.3 L70.5 57.2 Z" fill="#4a60c0"/>
<path d="M157 57.5 L162 57.5 L159.5 54.6 Z" fill="#4a60c0"/>
<text x="146" y="60" font-size="12" fill="#000" text-anchor="end">0.50</text>
<text x="18.5" y="60.7" font-size="12" fill="#ffe6e6" textLength="25" lengthAdjust="spacingAndGlyphs">SELL</text>
<text x="186.6" y="60.7" font-size="12" fill="#ffe6e6" textLength="23" lengthAdjust="spacingAndGlyphs">BUY</text>
<text x="25.8" y="96.5" font-size="11" font-weight="bold" fill="#fff" textLength="23.8" lengthAdjust="spacingAndGlyphs">0.76</text>
<text x="136" y="96.5" font-size="11" font-weight="bold" fill="#fff" textLength="23.8" lengthAdjust="spacingAndGlyphs">0.76</text>
<text x="53" y="97.6" font-size="36.5" fill="#fff" stroke="url(#gp2)" stroke-width="0.6" textLength="35.5" lengthAdjust="spacingAndGlyphs">00</text>
<text x="164" y="97.6" font-size="36.5" fill="#fff" stroke="url(#gp2)" stroke-width="0.6" textLength="35.5" lengthAdjust="spacingAndGlyphs">02</text>
<text x="93.7" y="81.2" font-size="11" font-weight="bold" fill="#fff">5</text>
<text x="204" y="81.2" font-size="11" font-weight="bold" fill="#fff">7</text>
<g shape-rendering="crispEdges">
<rect x="0" y="588" width="1206" height="1" fill="#e6e6e6"/>
<rect x="0" y="589" width="1206" height="1" fill="#f4f4f4"/>
<rect x="0" y="590" width="1206" height="24" fill="#f0f0f0"/>
<rect x="0" y="609" width="1206" height="2" fill="#fbfbfb"/>
<rect x="0" y="590" width="1206" height="1" fill="#000"/>
<rect x="212" y="590" width="108" height="19" fill="#fff"/>
<rect x="212" y="590" width="1" height="19" fill="#000"/>
<rect x="319" y="590" width="1" height="19" fill="#000"/>
<rect x="212" y="608" width="108" height="1" fill="#000"/>
<rect x="213" y="590" width="106" height="1" fill="#fff"/>
<rect x="104" y="593" width="1" height="14" fill="#6a6a6a"/>
<rect x="428" y="593" width="1" height="14" fill="#6a6a6a"/>
<rect x="536" y="593" width="1" height="14" fill="#6a6a6a"/>
<rect x="648" y="593" width="1" height="14" fill="#6a6a6a"/>
<rect x="756" y="593" width="1" height="14" fill="#6a6a6a"/>
<rect x="848" y="593" width="1" height="14" fill="#6a6a6a"/>
<rect x="948" y="593" width="1" height="14" fill="#6a6a6a"/>
<rect x="1032" y="593" width="1" height="14" fill="#6a6a6a"/>
<rect x="1112" y="593" width="1" height="14" fill="#6a6a6a"/>
</g>
<text x="15.5" y="605" class="tab" textLength="77.5" lengthAdjust="spacingAndGlyphs">USDX,Weekly</text>
<text x="115.5" y="605" class="tab" textLength="83.5" lengthAdjust="spacingAndGlyphs">EURUSD-,Daily</text>
<text x="332.3" y="605" class="tab" textLength="83.7" lengthAdjust="spacingAndGlyphs">USDCHF-,Daily</text>
<text x="439.4" y="605" class="tab" textLength="85.6" lengthAdjust="spacingAndGlyphs">USDCAD-,Daily</text>
<text x="548.4" y="605" class="tab" textLength="87.6" lengthAdjust="spacingAndGlyphs">USDCNH-,Daily</text>
<text x="660" y="605" class="tab" textLength="84.3" lengthAdjust="spacingAndGlyphs">XAUUSD-,M30</text>
<text x="767.5" y="605" class="tab" textLength="68.5" lengthAdjust="spacingAndGlyphs">UKOil-,Daily</text>
<text x="859.5" y="605" class="tab" textLength="77.5" lengthAdjust="spacingAndGlyphs">DJ30-,Weekly</text>
<text x="959.3" y="605" class="tab" textLength="60.7" lengthAdjust="spacingAndGlyphs">UK100-,H1</text>
<text x="1044.6" y="605" class="tab" textLength="54.4" lengthAdjust="spacingAndGlyphs">USOil-,H1</text>
<text x="1122.6" y="605" class="tab" textLength="52.4" lengthAdjust="spacingAndGlyphs">HK50-,H1</text>
<text x="222.5" y="605" font-size="12.5" fill="#000" textLength="86" lengthAdjust="spacingAndGlyphs">AUDUSD-,Daily</text>
<path d="M1184 596 L1184 602.5 L1180.5 599.2 Z" fill="#a0a0a0"/>
<path d="M1200 596 L1200 602.5 L1203.5 599.2 Z" fill="#000"/>
</svg></body></html>
